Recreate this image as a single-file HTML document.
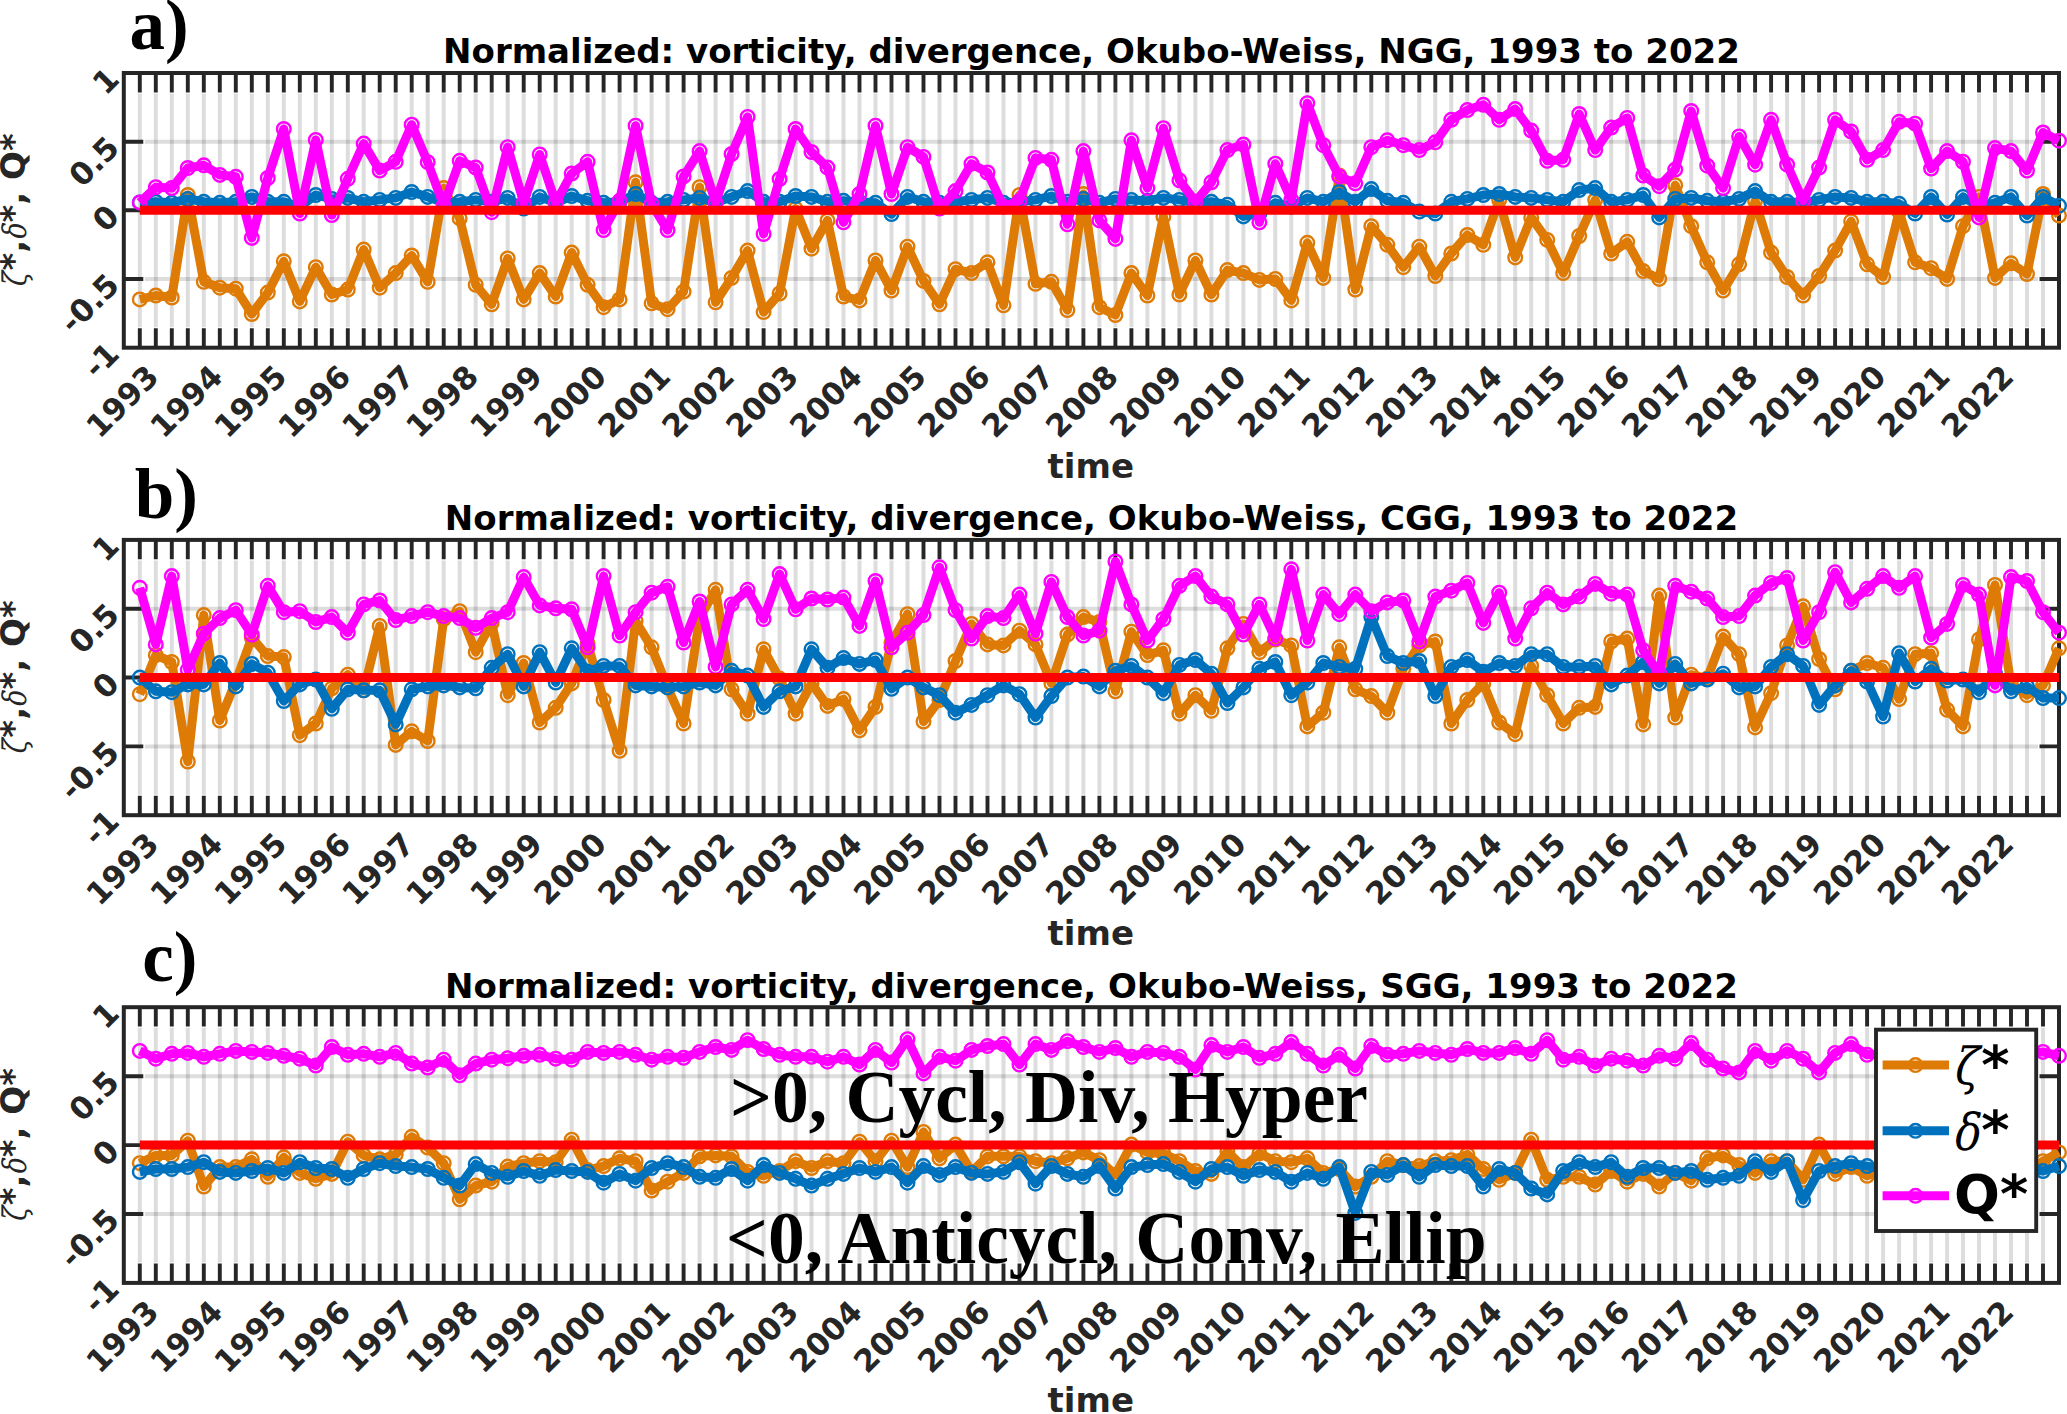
<!DOCTYPE html>
<html><head><meta charset="utf-8"><title>Normalized vorticity, divergence, Okubo-Weiss</title>
<style>
html,body{margin:0;padding:0;background:#fff;}
svg{display:block;}
text{font-family:"DejaVu Sans","Liberation Sans",sans-serif;font-weight:bold;}
.ttl{font-size:34px;fill:#000;}
.xl{font-size:34px;fill:#262626;}
.tk{font-size:31px;fill:#262626;}
.yl text{font-size:34px;fill:#262626;}
.yl text.gr{font-family:"DejaVu Math TeX Gyre","DejaVu Serif","Liberation Serif",serif;font-style:italic;font-weight:normal;font-size:32.5px;}
.gr2{font-family:"DejaVu Math TeX Gyre","DejaVu Serif","Liberation Serif",serif;font-style:italic;font-weight:normal;font-size:51px;fill:#000;}
.pl{font-family:"Liberation Serif",serif;font-weight:bold;font-size:71px;fill:#000;}
.an{font-family:"Liberation Serif",serif;font-weight:bold;font-size:73.5px;fill:#000;}
.lg{font-size:54px;fill:#000;}
</style></head>
<body>
<svg width="2067" height="1414" viewBox="0 0 2067 1414">
<rect width="2067" height="1414" fill="#fff"/>
<g>
<path d="M139.8 93.5V327.2M155.8 93.5V327.2M171.8 93.5V327.2M187.8 93.5V327.2M203.8 93.5V327.2M219.8 93.5V327.2M235.8 93.5V327.2M251.8 93.5V327.2M267.8 93.5V327.2M283.8 93.5V327.2M299.8 93.5V327.2M315.8 93.5V327.2M331.8 93.5V327.2M347.8 93.5V327.2M363.7 93.5V327.2M379.7 93.5V327.2M395.7 93.5V327.2M411.7 93.5V327.2M427.7 93.5V327.2M443.7 93.5V327.2M459.7 93.5V327.2M475.7 93.5V327.2M491.7 93.5V327.2M507.7 93.5V327.2M523.7 93.5V327.2M539.7 93.5V327.2M555.7 93.5V327.2M571.7 93.5V327.2M587.6 93.5V327.2M603.6 93.5V327.2M619.6 93.5V327.2M635.6 93.5V327.2M651.6 93.5V327.2M667.6 93.5V327.2M683.6 93.5V327.2M699.6 93.5V327.2M715.6 93.5V327.2M731.6 93.5V327.2M747.6 93.5V327.2M763.6 93.5V327.2M779.6 93.5V327.2M795.6 93.5V327.2M811.5 93.5V327.2M827.5 93.5V327.2M843.5 93.5V327.2M859.5 93.5V327.2M875.5 93.5V327.2M891.5 93.5V327.2M907.5 93.5V327.2M923.5 93.5V327.2M939.5 93.5V327.2M955.5 93.5V327.2M971.5 93.5V327.2M987.5 93.5V327.2M1003.5 93.5V327.2M1019.5 93.5V327.2M1035.5 93.5V327.2M1051.4 93.5V327.2M1067.4 93.5V327.2M1083.4 93.5V327.2M1099.4 93.5V327.2M1115.4 93.5V327.2M1131.4 93.5V327.2M1147.4 93.5V327.2M1163.4 93.5V327.2M1179.4 93.5V327.2M1195.4 93.5V327.2M1211.4 93.5V327.2M1227.4 93.5V327.2M1243.4 93.5V327.2M1259.4 93.5V327.2M1275.3 93.5V327.2M1291.3 93.5V327.2M1307.3 93.5V327.2M1323.3 93.5V327.2M1339.3 93.5V327.2M1355.3 93.5V327.2M1371.3 93.5V327.2M1387.3 93.5V327.2M1403.3 93.5V327.2M1419.3 93.5V327.2M1435.3 93.5V327.2M1451.3 93.5V327.2M1467.3 93.5V327.2M1483.3 93.5V327.2M1499.2 93.5V327.2M1515.2 93.5V327.2M1531.2 93.5V327.2M1547.2 93.5V327.2M1563.2 93.5V327.2M1579.2 93.5V327.2M1595.2 93.5V327.2M1611.2 93.5V327.2M1627.2 93.5V327.2M1643.2 93.5V327.2M1659.2 93.5V327.2M1675.2 93.5V327.2M1691.2 93.5V327.2M1707.2 93.5V327.2M1723.1 93.5V327.2M1739.1 93.5V327.2M1755.1 93.5V327.2M1771.1 93.5V327.2M1787.1 93.5V327.2M1803.1 93.5V327.2M1819.1 93.5V327.2M1835.1 93.5V327.2M1851.1 93.5V327.2M1867.1 93.5V327.2M1883.1 93.5V327.2M1899.1 93.5V327.2M1915.1 93.5V327.2M1931.1 93.5V327.2M1947.1 93.5V327.2M1963 93.5V327.2M1979 93.5V327.2M1995 93.5V327.2M2011 93.5V327.2M2027 93.5V327.2M2043 93.5V327.2" stroke="#000" stroke-opacity="0.135" stroke-width="4" fill="none"/>
<path d="M144.8 141.7H2038M144.8 279H2038" stroke="#000" stroke-opacity="0.135" stroke-width="4" fill="none"/>
<path d="M139.8 73v19.4M139.8 347.7v-19.4M155.8 73v19.4M155.8 347.7v-19.4M171.8 73v19.4M171.8 347.7v-19.4M187.8 73v19.4M187.8 347.7v-19.4M203.8 73v19.4M203.8 347.7v-19.4M219.8 73v19.4M219.8 347.7v-19.4M235.8 73v19.4M235.8 347.7v-19.4M251.8 73v19.4M251.8 347.7v-19.4M267.8 73v19.4M267.8 347.7v-19.4M283.8 73v19.4M283.8 347.7v-19.4M299.8 73v19.4M299.8 347.7v-19.4M315.8 73v19.4M315.8 347.7v-19.4M331.8 73v19.4M331.8 347.7v-19.4M347.8 73v19.4M347.8 347.7v-19.4M363.7 73v19.4M363.7 347.7v-19.4M379.7 73v19.4M379.7 347.7v-19.4M395.7 73v19.4M395.7 347.7v-19.4M411.7 73v19.4M411.7 347.7v-19.4M427.7 73v19.4M427.7 347.7v-19.4M443.7 73v19.4M443.7 347.7v-19.4M459.7 73v19.4M459.7 347.7v-19.4M475.7 73v19.4M475.7 347.7v-19.4M491.7 73v19.4M491.7 347.7v-19.4M507.7 73v19.4M507.7 347.7v-19.4M523.7 73v19.4M523.7 347.7v-19.4M539.7 73v19.4M539.7 347.7v-19.4M555.7 73v19.4M555.7 347.7v-19.4M571.7 73v19.4M571.7 347.7v-19.4M587.6 73v19.4M587.6 347.7v-19.4M603.6 73v19.4M603.6 347.7v-19.4M619.6 73v19.4M619.6 347.7v-19.4M635.6 73v19.4M635.6 347.7v-19.4M651.6 73v19.4M651.6 347.7v-19.4M667.6 73v19.4M667.6 347.7v-19.4M683.6 73v19.4M683.6 347.7v-19.4M699.6 73v19.4M699.6 347.7v-19.4M715.6 73v19.4M715.6 347.7v-19.4M731.6 73v19.4M731.6 347.7v-19.4M747.6 73v19.4M747.6 347.7v-19.4M763.6 73v19.4M763.6 347.7v-19.4M779.6 73v19.4M779.6 347.7v-19.4M795.6 73v19.4M795.6 347.7v-19.4M811.5 73v19.4M811.5 347.7v-19.4M827.5 73v19.4M827.5 347.7v-19.4M843.5 73v19.4M843.5 347.7v-19.4M859.5 73v19.4M859.5 347.7v-19.4M875.5 73v19.4M875.5 347.7v-19.4M891.5 73v19.4M891.5 347.7v-19.4M907.5 73v19.4M907.5 347.7v-19.4M923.5 73v19.4M923.5 347.7v-19.4M939.5 73v19.4M939.5 347.7v-19.4M955.5 73v19.4M955.5 347.7v-19.4M971.5 73v19.4M971.5 347.7v-19.4M987.5 73v19.4M987.5 347.7v-19.4M1003.5 73v19.4M1003.5 347.7v-19.4M1019.5 73v19.4M1019.5 347.7v-19.4M1035.5 73v19.4M1035.5 347.7v-19.4M1051.4 73v19.4M1051.4 347.7v-19.4M1067.4 73v19.4M1067.4 347.7v-19.4M1083.4 73v19.4M1083.4 347.7v-19.4M1099.4 73v19.4M1099.4 347.7v-19.4M1115.4 73v19.4M1115.4 347.7v-19.4M1131.4 73v19.4M1131.4 347.7v-19.4M1147.4 73v19.4M1147.4 347.7v-19.4M1163.4 73v19.4M1163.4 347.7v-19.4M1179.4 73v19.4M1179.4 347.7v-19.4M1195.4 73v19.4M1195.4 347.7v-19.4M1211.4 73v19.4M1211.4 347.7v-19.4M1227.4 73v19.4M1227.4 347.7v-19.4M1243.4 73v19.4M1243.4 347.7v-19.4M1259.4 73v19.4M1259.4 347.7v-19.4M1275.3 73v19.4M1275.3 347.7v-19.4M1291.3 73v19.4M1291.3 347.7v-19.4M1307.3 73v19.4M1307.3 347.7v-19.4M1323.3 73v19.4M1323.3 347.7v-19.4M1339.3 73v19.4M1339.3 347.7v-19.4M1355.3 73v19.4M1355.3 347.7v-19.4M1371.3 73v19.4M1371.3 347.7v-19.4M1387.3 73v19.4M1387.3 347.7v-19.4M1403.3 73v19.4M1403.3 347.7v-19.4M1419.3 73v19.4M1419.3 347.7v-19.4M1435.3 73v19.4M1435.3 347.7v-19.4M1451.3 73v19.4M1451.3 347.7v-19.4M1467.3 73v19.4M1467.3 347.7v-19.4M1483.3 73v19.4M1483.3 347.7v-19.4M1499.2 73v19.4M1499.2 347.7v-19.4M1515.2 73v19.4M1515.2 347.7v-19.4M1531.2 73v19.4M1531.2 347.7v-19.4M1547.2 73v19.4M1547.2 347.7v-19.4M1563.2 73v19.4M1563.2 347.7v-19.4M1579.2 73v19.4M1579.2 347.7v-19.4M1595.2 73v19.4M1595.2 347.7v-19.4M1611.2 73v19.4M1611.2 347.7v-19.4M1627.2 73v19.4M1627.2 347.7v-19.4M1643.2 73v19.4M1643.2 347.7v-19.4M1659.2 73v19.4M1659.2 347.7v-19.4M1675.2 73v19.4M1675.2 347.7v-19.4M1691.2 73v19.4M1691.2 347.7v-19.4M1707.2 73v19.4M1707.2 347.7v-19.4M1723.1 73v19.4M1723.1 347.7v-19.4M1739.1 73v19.4M1739.1 347.7v-19.4M1755.1 73v19.4M1755.1 347.7v-19.4M1771.1 73v19.4M1771.1 347.7v-19.4M1787.1 73v19.4M1787.1 347.7v-19.4M1803.1 73v19.4M1803.1 347.7v-19.4M1819.1 73v19.4M1819.1 347.7v-19.4M1835.1 73v19.4M1835.1 347.7v-19.4M1851.1 73v19.4M1851.1 347.7v-19.4M1867.1 73v19.4M1867.1 347.7v-19.4M1883.1 73v19.4M1883.1 347.7v-19.4M1899.1 73v19.4M1899.1 347.7v-19.4M1915.1 73v19.4M1915.1 347.7v-19.4M1931.1 73v19.4M1931.1 347.7v-19.4M1947.1 73v19.4M1947.1 347.7v-19.4M1963 73v19.4M1963 347.7v-19.4M1979 73v19.4M1979 347.7v-19.4M1995 73v19.4M1995 347.7v-19.4M2011 73v19.4M2011 347.7v-19.4M2027 73v19.4M2027 347.7v-19.4M2043 73v19.4M2043 347.7v-19.4M123.8 141.7h19.5M2059 141.7h-19.5M123.8 210.3h19.5M2059 210.3h-19.5M123.8 279h19.5M2059 279h-19.5" stroke="#262626" stroke-width="3.9" fill="none"/>
<rect x="123.8" y="73" width="1935.2" height="274.7" fill="none" stroke="#262626" stroke-width="4"/>
<polyline points="139.8,299.4 155.8,295.5 171.8,297.5 187.8,195 203.8,281.8 219.8,287.7 235.8,288.7 251.8,314 267.8,292.6 283.8,261.3 299.8,301.4 315.8,267.2 331.8,294.5 347.8,289.6 363.7,249.6 379.7,287.7 395.7,273.1 411.7,255.5 427.7,281.8 443.7,188.1 459.7,218.4 475.7,284.8 491.7,304.3 507.7,258.4 523.7,299.4 539.7,273.1 555.7,296.5 571.7,252.6 587.6,284.8 603.6,307.2 619.6,299.4 635.6,182.3 651.6,303.3 667.6,309.2 683.6,291.6 699.6,187.2 715.6,302.3 731.6,277.9 747.6,250.6 763.6,312.1 779.6,293.5 795.6,208.6 811.5,248.7 827.5,220.4 843.5,296.5 859.5,300.4 875.5,260.4 891.5,290.6 907.5,246.7 923.5,280.9 939.5,304.3 955.5,269.2 971.5,273.1 987.5,262.3 1003.5,305.3 1019.5,195 1035.5,283.8 1051.4,281.8 1067.4,310.1 1083.4,194 1099.4,307.2 1115.4,315 1131.4,273.1 1147.4,295.5 1163.4,216.4 1179.4,294.5 1195.4,260.4 1211.4,294.5 1227.4,270.1 1243.4,273.1 1259.4,279.9 1275.3,278.9 1291.3,300.4 1307.3,242.8 1323.3,277.9 1339.3,175.5 1355.3,289.6 1371.3,226.2 1387.3,244.8 1403.3,267.2 1419.3,246.7 1435.3,276 1451.3,253.5 1467.3,235 1483.3,244.8 1499.2,199.9 1515.2,257.4 1531.2,217.4 1547.2,239.9 1563.2,273.1 1579.2,236 1595.2,199.9 1611.2,253.5 1627.2,241.8 1643.2,271.1 1659.2,278.9 1675.2,185.2 1691.2,226.2 1707.2,262.3 1723.1,290.6 1739.1,264.3 1755.1,200.8 1771.1,252.6 1787.1,277 1803.1,295.5 1819.1,276 1835.1,250.6 1851.1,221.3 1867.1,264.3 1883.1,277 1899.1,211.6 1915.1,262.3 1931.1,268.2 1947.1,278.9 1963,226.2 1979,196.9 1995,277.9 2011,263.3 2027,274 2043,194 2059,215.5" fill="none" stroke="#DE7B06" stroke-width="9.0" stroke-linejoin="round"/>
<g fill="none" stroke="#DE7B06" stroke-width="2.4"><circle cx="139.8" cy="299.4" r="6.8"/><circle cx="155.8" cy="295.5" r="6.8"/><circle cx="171.8" cy="297.5" r="6.8"/><circle cx="187.8" cy="195" r="6.8"/><circle cx="203.8" cy="281.8" r="6.8"/><circle cx="219.8" cy="287.7" r="6.8"/><circle cx="235.8" cy="288.7" r="6.8"/><circle cx="251.8" cy="314" r="6.8"/><circle cx="267.8" cy="292.6" r="6.8"/><circle cx="283.8" cy="261.3" r="6.8"/><circle cx="299.8" cy="301.4" r="6.8"/><circle cx="315.8" cy="267.2" r="6.8"/><circle cx="331.8" cy="294.5" r="6.8"/><circle cx="347.8" cy="289.6" r="6.8"/><circle cx="363.7" cy="249.6" r="6.8"/><circle cx="379.7" cy="287.7" r="6.8"/><circle cx="395.7" cy="273.1" r="6.8"/><circle cx="411.7" cy="255.5" r="6.8"/><circle cx="427.7" cy="281.8" r="6.8"/><circle cx="443.7" cy="188.1" r="6.8"/><circle cx="459.7" cy="218.4" r="6.8"/><circle cx="475.7" cy="284.8" r="6.8"/><circle cx="491.7" cy="304.3" r="6.8"/><circle cx="507.7" cy="258.4" r="6.8"/><circle cx="523.7" cy="299.4" r="6.8"/><circle cx="539.7" cy="273.1" r="6.8"/><circle cx="555.7" cy="296.5" r="6.8"/><circle cx="571.7" cy="252.6" r="6.8"/><circle cx="587.6" cy="284.8" r="6.8"/><circle cx="603.6" cy="307.2" r="6.8"/><circle cx="619.6" cy="299.4" r="6.8"/><circle cx="635.6" cy="182.3" r="6.8"/><circle cx="651.6" cy="303.3" r="6.8"/><circle cx="667.6" cy="309.2" r="6.8"/><circle cx="683.6" cy="291.6" r="6.8"/><circle cx="699.6" cy="187.2" r="6.8"/><circle cx="715.6" cy="302.3" r="6.8"/><circle cx="731.6" cy="277.9" r="6.8"/><circle cx="747.6" cy="250.6" r="6.8"/><circle cx="763.6" cy="312.1" r="6.8"/><circle cx="779.6" cy="293.5" r="6.8"/><circle cx="795.6" cy="208.6" r="6.8"/><circle cx="811.5" cy="248.7" r="6.8"/><circle cx="827.5" cy="220.4" r="6.8"/><circle cx="843.5" cy="296.5" r="6.8"/><circle cx="859.5" cy="300.4" r="6.8"/><circle cx="875.5" cy="260.4" r="6.8"/><circle cx="891.5" cy="290.6" r="6.8"/><circle cx="907.5" cy="246.7" r="6.8"/><circle cx="923.5" cy="280.9" r="6.8"/><circle cx="939.5" cy="304.3" r="6.8"/><circle cx="955.5" cy="269.2" r="6.8"/><circle cx="971.5" cy="273.1" r="6.8"/><circle cx="987.5" cy="262.3" r="6.8"/><circle cx="1003.5" cy="305.3" r="6.8"/><circle cx="1019.5" cy="195" r="6.8"/><circle cx="1035.5" cy="283.8" r="6.8"/><circle cx="1051.4" cy="281.8" r="6.8"/><circle cx="1067.4" cy="310.1" r="6.8"/><circle cx="1083.4" cy="194" r="6.8"/><circle cx="1099.4" cy="307.2" r="6.8"/><circle cx="1115.4" cy="315" r="6.8"/><circle cx="1131.4" cy="273.1" r="6.8"/><circle cx="1147.4" cy="295.5" r="6.8"/><circle cx="1163.4" cy="216.4" r="6.8"/><circle cx="1179.4" cy="294.5" r="6.8"/><circle cx="1195.4" cy="260.4" r="6.8"/><circle cx="1211.4" cy="294.5" r="6.8"/><circle cx="1227.4" cy="270.1" r="6.8"/><circle cx="1243.4" cy="273.1" r="6.8"/><circle cx="1259.4" cy="279.9" r="6.8"/><circle cx="1275.3" cy="278.9" r="6.8"/><circle cx="1291.3" cy="300.4" r="6.8"/><circle cx="1307.3" cy="242.8" r="6.8"/><circle cx="1323.3" cy="277.9" r="6.8"/><circle cx="1339.3" cy="175.5" r="6.8"/><circle cx="1355.3" cy="289.6" r="6.8"/><circle cx="1371.3" cy="226.2" r="6.8"/><circle cx="1387.3" cy="244.8" r="6.8"/><circle cx="1403.3" cy="267.2" r="6.8"/><circle cx="1419.3" cy="246.7" r="6.8"/><circle cx="1435.3" cy="276" r="6.8"/><circle cx="1451.3" cy="253.5" r="6.8"/><circle cx="1467.3" cy="235" r="6.8"/><circle cx="1483.3" cy="244.8" r="6.8"/><circle cx="1499.2" cy="199.9" r="6.8"/><circle cx="1515.2" cy="257.4" r="6.8"/><circle cx="1531.2" cy="217.4" r="6.8"/><circle cx="1547.2" cy="239.9" r="6.8"/><circle cx="1563.2" cy="273.1" r="6.8"/><circle cx="1579.2" cy="236" r="6.8"/><circle cx="1595.2" cy="199.9" r="6.8"/><circle cx="1611.2" cy="253.5" r="6.8"/><circle cx="1627.2" cy="241.8" r="6.8"/><circle cx="1643.2" cy="271.1" r="6.8"/><circle cx="1659.2" cy="278.9" r="6.8"/><circle cx="1675.2" cy="185.2" r="6.8"/><circle cx="1691.2" cy="226.2" r="6.8"/><circle cx="1707.2" cy="262.3" r="6.8"/><circle cx="1723.1" cy="290.6" r="6.8"/><circle cx="1739.1" cy="264.3" r="6.8"/><circle cx="1755.1" cy="200.8" r="6.8"/><circle cx="1771.1" cy="252.6" r="6.8"/><circle cx="1787.1" cy="277" r="6.8"/><circle cx="1803.1" cy="295.5" r="6.8"/><circle cx="1819.1" cy="276" r="6.8"/><circle cx="1835.1" cy="250.6" r="6.8"/><circle cx="1851.1" cy="221.3" r="6.8"/><circle cx="1867.1" cy="264.3" r="6.8"/><circle cx="1883.1" cy="277" r="6.8"/><circle cx="1899.1" cy="211.6" r="6.8"/><circle cx="1915.1" cy="262.3" r="6.8"/><circle cx="1931.1" cy="268.2" r="6.8"/><circle cx="1947.1" cy="278.9" r="6.8"/><circle cx="1963" cy="226.2" r="6.8"/><circle cx="1979" cy="196.9" r="6.8"/><circle cx="1995" cy="277.9" r="6.8"/><circle cx="2011" cy="263.3" r="6.8"/><circle cx="2027" cy="274" r="6.8"/><circle cx="2043" cy="194" r="6.8"/><circle cx="2059" cy="215.5" r="6.8"/></g>
<polyline points="139.8,202.4 155.8,201.8 171.8,202.8 187.8,198.9 203.8,201.8 219.8,202.8 235.8,201.8 251.8,196.9 267.8,201.8 283.8,201.8 299.8,206.7 315.8,195 331.8,198.9 347.8,197.9 363.7,201.8 379.7,199.9 395.7,197.9 411.7,192 427.7,196.9 443.7,202.8 459.7,201.8 475.7,199.9 491.7,201.8 507.7,197.9 523.7,208.6 539.7,196.9 555.7,202.8 571.7,196 587.6,200.8 603.6,202.8 619.6,201.8 635.6,194 651.6,202.8 667.6,201.8 683.6,199.9 699.6,197.9 715.6,202.8 731.6,196.9 747.6,191.1 763.6,201.8 779.6,201.8 795.6,196 811.5,196.9 827.5,201.8 843.5,200.8 859.5,201.8 875.5,202.8 891.5,214.1 907.5,196.9 923.5,201.8 939.5,202.8 955.5,201.8 971.5,199.9 987.5,197.9 1003.5,202.8 1019.5,201.8 1035.5,199.9 1051.4,196 1067.4,201.8 1083.4,198.9 1099.4,202.8 1115.4,198.9 1131.4,199.9 1147.4,200.8 1163.4,197.9 1179.4,199.9 1195.4,202.8 1211.4,201.8 1227.4,204.7 1243.4,216.4 1259.4,213.5 1275.3,202.8 1291.3,206.7 1307.3,197.9 1323.3,201.8 1339.3,192 1355.3,201.8 1371.3,189.1 1387.3,200.8 1403.3,202.8 1419.3,211.6 1435.3,213.5 1451.3,201.8 1467.3,198.9 1483.3,195 1499.2,194 1515.2,196.9 1531.2,197.9 1547.2,199.9 1563.2,201.8 1579.2,190.1 1595.2,188.1 1611.2,201.8 1627.2,199.9 1643.2,195 1659.2,217.4 1675.2,198.9 1691.2,197.9 1707.2,200.8 1723.1,201.8 1739.1,198.9 1755.1,191.1 1771.1,201.8 1787.1,201.8 1803.1,202.8 1819.1,199.9 1835.1,196.9 1851.1,197.9 1867.1,201.8 1883.1,201.8 1899.1,203.8 1915.1,213.5 1931.1,196.9 1947.1,214.5 1963,196.9 1979,206.7 1995,202.8 2011,196.9 2027,215.5 2043,196.9 2059,205.7" fill="none" stroke="#0072BD" stroke-width="9.0" stroke-linejoin="round"/>
<g fill="none" stroke="#0072BD" stroke-width="2.4"><circle cx="139.8" cy="202.4" r="6.8"/><circle cx="155.8" cy="201.8" r="6.8"/><circle cx="171.8" cy="202.8" r="6.8"/><circle cx="187.8" cy="198.9" r="6.8"/><circle cx="203.8" cy="201.8" r="6.8"/><circle cx="219.8" cy="202.8" r="6.8"/><circle cx="235.8" cy="201.8" r="6.8"/><circle cx="251.8" cy="196.9" r="6.8"/><circle cx="267.8" cy="201.8" r="6.8"/><circle cx="283.8" cy="201.8" r="6.8"/><circle cx="299.8" cy="206.7" r="6.8"/><circle cx="315.8" cy="195" r="6.8"/><circle cx="331.8" cy="198.9" r="6.8"/><circle cx="347.8" cy="197.9" r="6.8"/><circle cx="363.7" cy="201.8" r="6.8"/><circle cx="379.7" cy="199.9" r="6.8"/><circle cx="395.7" cy="197.9" r="6.8"/><circle cx="411.7" cy="192" r="6.8"/><circle cx="427.7" cy="196.9" r="6.8"/><circle cx="443.7" cy="202.8" r="6.8"/><circle cx="459.7" cy="201.8" r="6.8"/><circle cx="475.7" cy="199.9" r="6.8"/><circle cx="491.7" cy="201.8" r="6.8"/><circle cx="507.7" cy="197.9" r="6.8"/><circle cx="523.7" cy="208.6" r="6.8"/><circle cx="539.7" cy="196.9" r="6.8"/><circle cx="555.7" cy="202.8" r="6.8"/><circle cx="571.7" cy="196" r="6.8"/><circle cx="587.6" cy="200.8" r="6.8"/><circle cx="603.6" cy="202.8" r="6.8"/><circle cx="619.6" cy="201.8" r="6.8"/><circle cx="635.6" cy="194" r="6.8"/><circle cx="651.6" cy="202.8" r="6.8"/><circle cx="667.6" cy="201.8" r="6.8"/><circle cx="683.6" cy="199.9" r="6.8"/><circle cx="699.6" cy="197.9" r="6.8"/><circle cx="715.6" cy="202.8" r="6.8"/><circle cx="731.6" cy="196.9" r="6.8"/><circle cx="747.6" cy="191.1" r="6.8"/><circle cx="763.6" cy="201.8" r="6.8"/><circle cx="779.6" cy="201.8" r="6.8"/><circle cx="795.6" cy="196" r="6.8"/><circle cx="811.5" cy="196.9" r="6.8"/><circle cx="827.5" cy="201.8" r="6.8"/><circle cx="843.5" cy="200.8" r="6.8"/><circle cx="859.5" cy="201.8" r="6.8"/><circle cx="875.5" cy="202.8" r="6.8"/><circle cx="891.5" cy="214.1" r="6.8"/><circle cx="907.5" cy="196.9" r="6.8"/><circle cx="923.5" cy="201.8" r="6.8"/><circle cx="939.5" cy="202.8" r="6.8"/><circle cx="955.5" cy="201.8" r="6.8"/><circle cx="971.5" cy="199.9" r="6.8"/><circle cx="987.5" cy="197.9" r="6.8"/><circle cx="1003.5" cy="202.8" r="6.8"/><circle cx="1019.5" cy="201.8" r="6.8"/><circle cx="1035.5" cy="199.9" r="6.8"/><circle cx="1051.4" cy="196" r="6.8"/><circle cx="1067.4" cy="201.8" r="6.8"/><circle cx="1083.4" cy="198.9" r="6.8"/><circle cx="1099.4" cy="202.8" r="6.8"/><circle cx="1115.4" cy="198.9" r="6.8"/><circle cx="1131.4" cy="199.9" r="6.8"/><circle cx="1147.4" cy="200.8" r="6.8"/><circle cx="1163.4" cy="197.9" r="6.8"/><circle cx="1179.4" cy="199.9" r="6.8"/><circle cx="1195.4" cy="202.8" r="6.8"/><circle cx="1211.4" cy="201.8" r="6.8"/><circle cx="1227.4" cy="204.7" r="6.8"/><circle cx="1243.4" cy="216.4" r="6.8"/><circle cx="1259.4" cy="213.5" r="6.8"/><circle cx="1275.3" cy="202.8" r="6.8"/><circle cx="1291.3" cy="206.7" r="6.8"/><circle cx="1307.3" cy="197.9" r="6.8"/><circle cx="1323.3" cy="201.8" r="6.8"/><circle cx="1339.3" cy="192" r="6.8"/><circle cx="1355.3" cy="201.8" r="6.8"/><circle cx="1371.3" cy="189.1" r="6.8"/><circle cx="1387.3" cy="200.8" r="6.8"/><circle cx="1403.3" cy="202.8" r="6.8"/><circle cx="1419.3" cy="211.6" r="6.8"/><circle cx="1435.3" cy="213.5" r="6.8"/><circle cx="1451.3" cy="201.8" r="6.8"/><circle cx="1467.3" cy="198.9" r="6.8"/><circle cx="1483.3" cy="195" r="6.8"/><circle cx="1499.2" cy="194" r="6.8"/><circle cx="1515.2" cy="196.9" r="6.8"/><circle cx="1531.2" cy="197.9" r="6.8"/><circle cx="1547.2" cy="199.9" r="6.8"/><circle cx="1563.2" cy="201.8" r="6.8"/><circle cx="1579.2" cy="190.1" r="6.8"/><circle cx="1595.2" cy="188.1" r="6.8"/><circle cx="1611.2" cy="201.8" r="6.8"/><circle cx="1627.2" cy="199.9" r="6.8"/><circle cx="1643.2" cy="195" r="6.8"/><circle cx="1659.2" cy="217.4" r="6.8"/><circle cx="1675.2" cy="198.9" r="6.8"/><circle cx="1691.2" cy="197.9" r="6.8"/><circle cx="1707.2" cy="200.8" r="6.8"/><circle cx="1723.1" cy="201.8" r="6.8"/><circle cx="1739.1" cy="198.9" r="6.8"/><circle cx="1755.1" cy="191.1" r="6.8"/><circle cx="1771.1" cy="201.8" r="6.8"/><circle cx="1787.1" cy="201.8" r="6.8"/><circle cx="1803.1" cy="202.8" r="6.8"/><circle cx="1819.1" cy="199.9" r="6.8"/><circle cx="1835.1" cy="196.9" r="6.8"/><circle cx="1851.1" cy="197.9" r="6.8"/><circle cx="1867.1" cy="201.8" r="6.8"/><circle cx="1883.1" cy="201.8" r="6.8"/><circle cx="1899.1" cy="203.8" r="6.8"/><circle cx="1915.1" cy="213.5" r="6.8"/><circle cx="1931.1" cy="196.9" r="6.8"/><circle cx="1947.1" cy="214.5" r="6.8"/><circle cx="1963" cy="196.9" r="6.8"/><circle cx="1979" cy="206.7" r="6.8"/><circle cx="1995" cy="202.8" r="6.8"/><circle cx="2011" cy="196.9" r="6.8"/><circle cx="2027" cy="215.5" r="6.8"/><circle cx="2043" cy="196.9" r="6.8"/><circle cx="2059" cy="205.7" r="6.8"/></g>
<polyline points="139.8,202.4 155.8,187.2 171.8,188.1 187.8,168 203.8,165.3 219.8,174.9 235.8,176.8 251.8,237.9 267.8,178 283.8,129 299.8,213.5 315.8,139.9 331.8,215.1 347.8,178.8 363.7,143.6 379.7,170.6 395.7,161.8 411.7,124.7 427.7,162.2 443.7,205.7 459.7,160.8 475.7,167.6 491.7,212.2 507.7,147.2 523.7,202.8 539.7,154.4 555.7,202.8 571.7,173.5 587.6,161.8 603.6,230.1 619.6,200.8 635.6,125.7 651.6,203.8 667.6,230.1 683.6,176.4 699.6,151.1 715.6,202.8 731.6,154 747.6,116.9 763.6,234 779.6,179 795.6,129 811.5,152 827.5,167.6 843.5,222.3 859.5,194 875.5,125.7 891.5,194 907.5,147.2 923.5,156.9 939.5,208.6 955.5,191.1 971.5,163.7 987.5,172.5 1003.5,206.7 1019.5,200.8 1035.5,157.9 1051.4,159.8 1067.4,224.3 1083.4,151.1 1099.4,220.4 1115.4,238.9 1131.4,140.3 1147.4,188.1 1163.4,128.2 1179.4,180.3 1195.4,201.8 1211.4,182.3 1227.4,150.1 1243.4,144.6 1259.4,222.3 1275.3,163.7 1291.3,199.9 1307.3,103.2 1323.3,145.2 1339.3,176.4 1355.3,183.3 1371.3,147.2 1387.3,140.3 1403.3,145.2 1419.3,150.1 1435.3,142.3 1451.3,119.8 1467.3,110.1 1483.3,104.8 1499.2,119.8 1515.2,109.1 1531.2,130.6 1547.2,160.8 1563.2,159.8 1579.2,114 1595.2,150.1 1611.2,127.6 1627.2,117.9 1643.2,175.5 1659.2,186.2 1675.2,169.6 1691.2,111 1707.2,165.7 1723.1,188.1 1739.1,136.4 1755.1,164.7 1771.1,119.8 1787.1,164.7 1803.1,200.8 1819.1,167.6 1835.1,119.8 1851.1,131.5 1867.1,159.8 1883.1,150.1 1899.1,121.8 1915.1,123.7 1931.1,168.6 1947.1,151.1 1963,161.8 1979,217.4 1995,148.1 2011,151.1 2027,170.6 2043,132.5 2059,140.7" fill="none" stroke="#FF00FF" stroke-width="9.0" stroke-linejoin="round"/>
<g fill="none" stroke="#FF00FF" stroke-width="2.4"><circle cx="139.8" cy="202.4" r="6.8"/><circle cx="155.8" cy="187.2" r="6.8"/><circle cx="171.8" cy="188.1" r="6.8"/><circle cx="187.8" cy="168" r="6.8"/><circle cx="203.8" cy="165.3" r="6.8"/><circle cx="219.8" cy="174.9" r="6.8"/><circle cx="235.8" cy="176.8" r="6.8"/><circle cx="251.8" cy="237.9" r="6.8"/><circle cx="267.8" cy="178" r="6.8"/><circle cx="283.8" cy="129" r="6.8"/><circle cx="299.8" cy="213.5" r="6.8"/><circle cx="315.8" cy="139.9" r="6.8"/><circle cx="331.8" cy="215.1" r="6.8"/><circle cx="347.8" cy="178.8" r="6.8"/><circle cx="363.7" cy="143.6" r="6.8"/><circle cx="379.7" cy="170.6" r="6.8"/><circle cx="395.7" cy="161.8" r="6.8"/><circle cx="411.7" cy="124.7" r="6.8"/><circle cx="427.7" cy="162.2" r="6.8"/><circle cx="443.7" cy="205.7" r="6.8"/><circle cx="459.7" cy="160.8" r="6.8"/><circle cx="475.7" cy="167.6" r="6.8"/><circle cx="491.7" cy="212.2" r="6.8"/><circle cx="507.7" cy="147.2" r="6.8"/><circle cx="523.7" cy="202.8" r="6.8"/><circle cx="539.7" cy="154.4" r="6.8"/><circle cx="555.7" cy="202.8" r="6.8"/><circle cx="571.7" cy="173.5" r="6.8"/><circle cx="587.6" cy="161.8" r="6.8"/><circle cx="603.6" cy="230.1" r="6.8"/><circle cx="619.6" cy="200.8" r="6.8"/><circle cx="635.6" cy="125.7" r="6.8"/><circle cx="651.6" cy="203.8" r="6.8"/><circle cx="667.6" cy="230.1" r="6.8"/><circle cx="683.6" cy="176.4" r="6.8"/><circle cx="699.6" cy="151.1" r="6.8"/><circle cx="715.6" cy="202.8" r="6.8"/><circle cx="731.6" cy="154" r="6.8"/><circle cx="747.6" cy="116.9" r="6.8"/><circle cx="763.6" cy="234" r="6.8"/><circle cx="779.6" cy="179" r="6.8"/><circle cx="795.6" cy="129" r="6.8"/><circle cx="811.5" cy="152" r="6.8"/><circle cx="827.5" cy="167.6" r="6.8"/><circle cx="843.5" cy="222.3" r="6.8"/><circle cx="859.5" cy="194" r="6.8"/><circle cx="875.5" cy="125.7" r="6.8"/><circle cx="891.5" cy="194" r="6.8"/><circle cx="907.5" cy="147.2" r="6.8"/><circle cx="923.5" cy="156.9" r="6.8"/><circle cx="939.5" cy="208.6" r="6.8"/><circle cx="955.5" cy="191.1" r="6.8"/><circle cx="971.5" cy="163.7" r="6.8"/><circle cx="987.5" cy="172.5" r="6.8"/><circle cx="1003.5" cy="206.7" r="6.8"/><circle cx="1019.5" cy="200.8" r="6.8"/><circle cx="1035.5" cy="157.9" r="6.8"/><circle cx="1051.4" cy="159.8" r="6.8"/><circle cx="1067.4" cy="224.3" r="6.8"/><circle cx="1083.4" cy="151.1" r="6.8"/><circle cx="1099.4" cy="220.4" r="6.8"/><circle cx="1115.4" cy="238.9" r="6.8"/><circle cx="1131.4" cy="140.3" r="6.8"/><circle cx="1147.4" cy="188.1" r="6.8"/><circle cx="1163.4" cy="128.2" r="6.8"/><circle cx="1179.4" cy="180.3" r="6.8"/><circle cx="1195.4" cy="201.8" r="6.8"/><circle cx="1211.4" cy="182.3" r="6.8"/><circle cx="1227.4" cy="150.1" r="6.8"/><circle cx="1243.4" cy="144.6" r="6.8"/><circle cx="1259.4" cy="222.3" r="6.8"/><circle cx="1275.3" cy="163.7" r="6.8"/><circle cx="1291.3" cy="199.9" r="6.8"/><circle cx="1307.3" cy="103.2" r="6.8"/><circle cx="1323.3" cy="145.2" r="6.8"/><circle cx="1339.3" cy="176.4" r="6.8"/><circle cx="1355.3" cy="183.3" r="6.8"/><circle cx="1371.3" cy="147.2" r="6.8"/><circle cx="1387.3" cy="140.3" r="6.8"/><circle cx="1403.3" cy="145.2" r="6.8"/><circle cx="1419.3" cy="150.1" r="6.8"/><circle cx="1435.3" cy="142.3" r="6.8"/><circle cx="1451.3" cy="119.8" r="6.8"/><circle cx="1467.3" cy="110.1" r="6.8"/><circle cx="1483.3" cy="104.8" r="6.8"/><circle cx="1499.2" cy="119.8" r="6.8"/><circle cx="1515.2" cy="109.1" r="6.8"/><circle cx="1531.2" cy="130.6" r="6.8"/><circle cx="1547.2" cy="160.8" r="6.8"/><circle cx="1563.2" cy="159.8" r="6.8"/><circle cx="1579.2" cy="114" r="6.8"/><circle cx="1595.2" cy="150.1" r="6.8"/><circle cx="1611.2" cy="127.6" r="6.8"/><circle cx="1627.2" cy="117.9" r="6.8"/><circle cx="1643.2" cy="175.5" r="6.8"/><circle cx="1659.2" cy="186.2" r="6.8"/><circle cx="1675.2" cy="169.6" r="6.8"/><circle cx="1691.2" cy="111" r="6.8"/><circle cx="1707.2" cy="165.7" r="6.8"/><circle cx="1723.1" cy="188.1" r="6.8"/><circle cx="1739.1" cy="136.4" r="6.8"/><circle cx="1755.1" cy="164.7" r="6.8"/><circle cx="1771.1" cy="119.8" r="6.8"/><circle cx="1787.1" cy="164.7" r="6.8"/><circle cx="1803.1" cy="200.8" r="6.8"/><circle cx="1819.1" cy="167.6" r="6.8"/><circle cx="1835.1" cy="119.8" r="6.8"/><circle cx="1851.1" cy="131.5" r="6.8"/><circle cx="1867.1" cy="159.8" r="6.8"/><circle cx="1883.1" cy="150.1" r="6.8"/><circle cx="1899.1" cy="121.8" r="6.8"/><circle cx="1915.1" cy="123.7" r="6.8"/><circle cx="1931.1" cy="168.6" r="6.8"/><circle cx="1947.1" cy="151.1" r="6.8"/><circle cx="1963" cy="161.8" r="6.8"/><circle cx="1979" cy="217.4" r="6.8"/><circle cx="1995" cy="148.1" r="6.8"/><circle cx="2011" cy="151.1" r="6.8"/><circle cx="2027" cy="170.6" r="6.8"/><circle cx="2043" cy="132.5" r="6.8"/><circle cx="2059" cy="140.7" r="6.8"/></g>
<path d="M139.8 210.3H2059" stroke="#FF0000" stroke-width="9" fill="none"/>
<text x="1091.5" y="63.2" text-anchor="middle" class="ttl">Normalized: vorticity, divergence, Okubo-Weiss, NGG, 1993 to 2022</text>
<text x="1090.8" y="478" text-anchor="middle" class="xl">time</text>
<text transform="translate(121 81) rotate(-45)" text-anchor="end" class="tk">1</text>
<text transform="translate(121 149.7) rotate(-45)" text-anchor="end" class="tk">0.5</text>
<text transform="translate(121 218.3) rotate(-45)" text-anchor="end" class="tk">0</text>
<text transform="translate(121 287) rotate(-45)" text-anchor="end" class="tk">-0.5</text>
<text transform="translate(121 355.7) rotate(-45)" text-anchor="end" class="tk">-1</text>
<text transform="translate(160.4 378.5) rotate(-45)" text-anchor="end" class="tk">1993</text>
<text transform="translate(224.4 378.5) rotate(-45)" text-anchor="end" class="tk">1994</text>
<text transform="translate(288.4 378.5) rotate(-45)" text-anchor="end" class="tk">1995</text>
<text transform="translate(352.4 378.5) rotate(-45)" text-anchor="end" class="tk">1996</text>
<text transform="translate(416.3 378.5) rotate(-45)" text-anchor="end" class="tk">1997</text>
<text transform="translate(480.3 378.5) rotate(-45)" text-anchor="end" class="tk">1998</text>
<text transform="translate(544.3 378.5) rotate(-45)" text-anchor="end" class="tk">1999</text>
<text transform="translate(608.2 378.5) rotate(-45)" text-anchor="end" class="tk">2000</text>
<text transform="translate(672.2 378.5) rotate(-45)" text-anchor="end" class="tk">2001</text>
<text transform="translate(736.2 378.5) rotate(-45)" text-anchor="end" class="tk">2002</text>
<text transform="translate(800.2 378.5) rotate(-45)" text-anchor="end" class="tk">2003</text>
<text transform="translate(864.1 378.5) rotate(-45)" text-anchor="end" class="tk">2004</text>
<text transform="translate(928.1 378.5) rotate(-45)" text-anchor="end" class="tk">2005</text>
<text transform="translate(992.1 378.5) rotate(-45)" text-anchor="end" class="tk">2006</text>
<text transform="translate(1056.1 378.5) rotate(-45)" text-anchor="end" class="tk">2007</text>
<text transform="translate(1120 378.5) rotate(-45)" text-anchor="end" class="tk">2008</text>
<text transform="translate(1184 378.5) rotate(-45)" text-anchor="end" class="tk">2009</text>
<text transform="translate(1248 378.5) rotate(-45)" text-anchor="end" class="tk">2010</text>
<text transform="translate(1311.9 378.5) rotate(-45)" text-anchor="end" class="tk">2011</text>
<text transform="translate(1375.9 378.5) rotate(-45)" text-anchor="end" class="tk">2012</text>
<text transform="translate(1439.9 378.5) rotate(-45)" text-anchor="end" class="tk">2013</text>
<text transform="translate(1503.9 378.5) rotate(-45)" text-anchor="end" class="tk">2014</text>
<text transform="translate(1567.8 378.5) rotate(-45)" text-anchor="end" class="tk">2015</text>
<text transform="translate(1631.8 378.5) rotate(-45)" text-anchor="end" class="tk">2016</text>
<text transform="translate(1695.8 378.5) rotate(-45)" text-anchor="end" class="tk">2017</text>
<text transform="translate(1759.7 378.5) rotate(-45)" text-anchor="end" class="tk">2018</text>
<text transform="translate(1823.7 378.5) rotate(-45)" text-anchor="end" class="tk">2019</text>
<text transform="translate(1887.7 378.5) rotate(-45)" text-anchor="end" class="tk">2020</text>
<text transform="translate(1951.7 378.5) rotate(-45)" text-anchor="end" class="tk">2021</text>
<text transform="translate(2015.6 378.5) rotate(-45)" text-anchor="end" class="tk">2022</text>
<g transform="translate(24.5 285.1) rotate(-90)" class="yl"><text transform="translate(-3.7 1.5) scale(0.82 1)" class="gr">ζ</text><text x="14.55" y="0">*,</text><text transform="translate(43.5 1.2) scale(0.82 1)" class="gr">δ</text><text x="62.65" y="0">*, Q*</text></g>
</g>
<g>
<path d="M139.8 560.4V794.7M155.8 560.4V794.7M171.8 560.4V794.7M187.8 560.4V794.7M203.8 560.4V794.7M219.8 560.4V794.7M235.8 560.4V794.7M251.8 560.4V794.7M267.8 560.4V794.7M283.8 560.4V794.7M299.8 560.4V794.7M315.8 560.4V794.7M331.8 560.4V794.7M347.8 560.4V794.7M363.7 560.4V794.7M379.7 560.4V794.7M395.7 560.4V794.7M411.7 560.4V794.7M427.7 560.4V794.7M443.7 560.4V794.7M459.7 560.4V794.7M475.7 560.4V794.7M491.7 560.4V794.7M507.7 560.4V794.7M523.7 560.4V794.7M539.7 560.4V794.7M555.7 560.4V794.7M571.7 560.4V794.7M587.6 560.4V794.7M603.6 560.4V794.7M619.6 560.4V794.7M635.6 560.4V794.7M651.6 560.4V794.7M667.6 560.4V794.7M683.6 560.4V794.7M699.6 560.4V794.7M715.6 560.4V794.7M731.6 560.4V794.7M747.6 560.4V794.7M763.6 560.4V794.7M779.6 560.4V794.7M795.6 560.4V794.7M811.5 560.4V794.7M827.5 560.4V794.7M843.5 560.4V794.7M859.5 560.4V794.7M875.5 560.4V794.7M891.5 560.4V794.7M907.5 560.4V794.7M923.5 560.4V794.7M939.5 560.4V794.7M955.5 560.4V794.7M971.5 560.4V794.7M987.5 560.4V794.7M1003.5 560.4V794.7M1019.5 560.4V794.7M1035.5 560.4V794.7M1051.4 560.4V794.7M1067.4 560.4V794.7M1083.4 560.4V794.7M1099.4 560.4V794.7M1115.4 560.4V794.7M1131.4 560.4V794.7M1147.4 560.4V794.7M1163.4 560.4V794.7M1179.4 560.4V794.7M1195.4 560.4V794.7M1211.4 560.4V794.7M1227.4 560.4V794.7M1243.4 560.4V794.7M1259.4 560.4V794.7M1275.3 560.4V794.7M1291.3 560.4V794.7M1307.3 560.4V794.7M1323.3 560.4V794.7M1339.3 560.4V794.7M1355.3 560.4V794.7M1371.3 560.4V794.7M1387.3 560.4V794.7M1403.3 560.4V794.7M1419.3 560.4V794.7M1435.3 560.4V794.7M1451.3 560.4V794.7M1467.3 560.4V794.7M1483.3 560.4V794.7M1499.2 560.4V794.7M1515.2 560.4V794.7M1531.2 560.4V794.7M1547.2 560.4V794.7M1563.2 560.4V794.7M1579.2 560.4V794.7M1595.2 560.4V794.7M1611.2 560.4V794.7M1627.2 560.4V794.7M1643.2 560.4V794.7M1659.2 560.4V794.7M1675.2 560.4V794.7M1691.2 560.4V794.7M1707.2 560.4V794.7M1723.1 560.4V794.7M1739.1 560.4V794.7M1755.1 560.4V794.7M1771.1 560.4V794.7M1787.1 560.4V794.7M1803.1 560.4V794.7M1819.1 560.4V794.7M1835.1 560.4V794.7M1851.1 560.4V794.7M1867.1 560.4V794.7M1883.1 560.4V794.7M1899.1 560.4V794.7M1915.1 560.4V794.7M1931.1 560.4V794.7M1947.1 560.4V794.7M1963 560.4V794.7M1979 560.4V794.7M1995 560.4V794.7M2011 560.4V794.7M2027 560.4V794.7M2043 560.4V794.7" stroke="#000" stroke-opacity="0.135" stroke-width="4" fill="none"/>
<path d="M144.8 608.7H2038M144.8 746.4H2038" stroke="#000" stroke-opacity="0.135" stroke-width="4" fill="none"/>
<path d="M139.8 539.9v19.4M139.8 815.2v-19.4M155.8 539.9v19.4M155.8 815.2v-19.4M171.8 539.9v19.4M171.8 815.2v-19.4M187.8 539.9v19.4M187.8 815.2v-19.4M203.8 539.9v19.4M203.8 815.2v-19.4M219.8 539.9v19.4M219.8 815.2v-19.4M235.8 539.9v19.4M235.8 815.2v-19.4M251.8 539.9v19.4M251.8 815.2v-19.4M267.8 539.9v19.4M267.8 815.2v-19.4M283.8 539.9v19.4M283.8 815.2v-19.4M299.8 539.9v19.4M299.8 815.2v-19.4M315.8 539.9v19.4M315.8 815.2v-19.4M331.8 539.9v19.4M331.8 815.2v-19.4M347.8 539.9v19.4M347.8 815.2v-19.4M363.7 539.9v19.4M363.7 815.2v-19.4M379.7 539.9v19.4M379.7 815.2v-19.4M395.7 539.9v19.4M395.7 815.2v-19.4M411.7 539.9v19.4M411.7 815.2v-19.4M427.7 539.9v19.4M427.7 815.2v-19.4M443.7 539.9v19.4M443.7 815.2v-19.4M459.7 539.9v19.4M459.7 815.2v-19.4M475.7 539.9v19.4M475.7 815.2v-19.4M491.7 539.9v19.4M491.7 815.2v-19.4M507.7 539.9v19.4M507.7 815.2v-19.4M523.7 539.9v19.4M523.7 815.2v-19.4M539.7 539.9v19.4M539.7 815.2v-19.4M555.7 539.9v19.4M555.7 815.2v-19.4M571.7 539.9v19.4M571.7 815.2v-19.4M587.6 539.9v19.4M587.6 815.2v-19.4M603.6 539.9v19.4M603.6 815.2v-19.4M619.6 539.9v19.4M619.6 815.2v-19.4M635.6 539.9v19.4M635.6 815.2v-19.4M651.6 539.9v19.4M651.6 815.2v-19.4M667.6 539.9v19.4M667.6 815.2v-19.4M683.6 539.9v19.4M683.6 815.2v-19.4M699.6 539.9v19.4M699.6 815.2v-19.4M715.6 539.9v19.4M715.6 815.2v-19.4M731.6 539.9v19.4M731.6 815.2v-19.4M747.6 539.9v19.4M747.6 815.2v-19.4M763.6 539.9v19.4M763.6 815.2v-19.4M779.6 539.9v19.4M779.6 815.2v-19.4M795.6 539.9v19.4M795.6 815.2v-19.4M811.5 539.9v19.4M811.5 815.2v-19.4M827.5 539.9v19.4M827.5 815.2v-19.4M843.5 539.9v19.4M843.5 815.2v-19.4M859.5 539.9v19.4M859.5 815.2v-19.4M875.5 539.9v19.4M875.5 815.2v-19.4M891.5 539.9v19.4M891.5 815.2v-19.4M907.5 539.9v19.4M907.5 815.2v-19.4M923.5 539.9v19.4M923.5 815.2v-19.4M939.5 539.9v19.4M939.5 815.2v-19.4M955.5 539.9v19.4M955.5 815.2v-19.4M971.5 539.9v19.4M971.5 815.2v-19.4M987.5 539.9v19.4M987.5 815.2v-19.4M1003.5 539.9v19.4M1003.5 815.2v-19.4M1019.5 539.9v19.4M1019.5 815.2v-19.4M1035.5 539.9v19.4M1035.5 815.2v-19.4M1051.4 539.9v19.4M1051.4 815.2v-19.4M1067.4 539.9v19.4M1067.4 815.2v-19.4M1083.4 539.9v19.4M1083.4 815.2v-19.4M1099.4 539.9v19.4M1099.4 815.2v-19.4M1115.4 539.9v19.4M1115.4 815.2v-19.4M1131.4 539.9v19.4M1131.4 815.2v-19.4M1147.4 539.9v19.4M1147.4 815.2v-19.4M1163.4 539.9v19.4M1163.4 815.2v-19.4M1179.4 539.9v19.4M1179.4 815.2v-19.4M1195.4 539.9v19.4M1195.4 815.2v-19.4M1211.4 539.9v19.4M1211.4 815.2v-19.4M1227.4 539.9v19.4M1227.4 815.2v-19.4M1243.4 539.9v19.4M1243.4 815.2v-19.4M1259.4 539.9v19.4M1259.4 815.2v-19.4M1275.3 539.9v19.4M1275.3 815.2v-19.4M1291.3 539.9v19.4M1291.3 815.2v-19.4M1307.3 539.9v19.4M1307.3 815.2v-19.4M1323.3 539.9v19.4M1323.3 815.2v-19.4M1339.3 539.9v19.4M1339.3 815.2v-19.4M1355.3 539.9v19.4M1355.3 815.2v-19.4M1371.3 539.9v19.4M1371.3 815.2v-19.4M1387.3 539.9v19.4M1387.3 815.2v-19.4M1403.3 539.9v19.4M1403.3 815.2v-19.4M1419.3 539.9v19.4M1419.3 815.2v-19.4M1435.3 539.9v19.4M1435.3 815.2v-19.4M1451.3 539.9v19.4M1451.3 815.2v-19.4M1467.3 539.9v19.4M1467.3 815.2v-19.4M1483.3 539.9v19.4M1483.3 815.2v-19.4M1499.2 539.9v19.4M1499.2 815.2v-19.4M1515.2 539.9v19.4M1515.2 815.2v-19.4M1531.2 539.9v19.4M1531.2 815.2v-19.4M1547.2 539.9v19.4M1547.2 815.2v-19.4M1563.2 539.9v19.4M1563.2 815.2v-19.4M1579.2 539.9v19.4M1579.2 815.2v-19.4M1595.2 539.9v19.4M1595.2 815.2v-19.4M1611.2 539.9v19.4M1611.2 815.2v-19.4M1627.2 539.9v19.4M1627.2 815.2v-19.4M1643.2 539.9v19.4M1643.2 815.2v-19.4M1659.2 539.9v19.4M1659.2 815.2v-19.4M1675.2 539.9v19.4M1675.2 815.2v-19.4M1691.2 539.9v19.4M1691.2 815.2v-19.4M1707.2 539.9v19.4M1707.2 815.2v-19.4M1723.1 539.9v19.4M1723.1 815.2v-19.4M1739.1 539.9v19.4M1739.1 815.2v-19.4M1755.1 539.9v19.4M1755.1 815.2v-19.4M1771.1 539.9v19.4M1771.1 815.2v-19.4M1787.1 539.9v19.4M1787.1 815.2v-19.4M1803.1 539.9v19.4M1803.1 815.2v-19.4M1819.1 539.9v19.4M1819.1 815.2v-19.4M1835.1 539.9v19.4M1835.1 815.2v-19.4M1851.1 539.9v19.4M1851.1 815.2v-19.4M1867.1 539.9v19.4M1867.1 815.2v-19.4M1883.1 539.9v19.4M1883.1 815.2v-19.4M1899.1 539.9v19.4M1899.1 815.2v-19.4M1915.1 539.9v19.4M1915.1 815.2v-19.4M1931.1 539.9v19.4M1931.1 815.2v-19.4M1947.1 539.9v19.4M1947.1 815.2v-19.4M1963 539.9v19.4M1963 815.2v-19.4M1979 539.9v19.4M1979 815.2v-19.4M1995 539.9v19.4M1995 815.2v-19.4M2011 539.9v19.4M2011 815.2v-19.4M2027 539.9v19.4M2027 815.2v-19.4M2043 539.9v19.4M2043 815.2v-19.4M123.8 608.7h19.5M2059 608.7h-19.5M123.8 677.5h19.5M2059 677.5h-19.5M123.8 746.4h19.5M2059 746.4h-19.5" stroke="#262626" stroke-width="3.9" fill="none"/>
<rect x="123.8" y="539.9" width="1935.2" height="275.3" fill="none" stroke="#262626" stroke-width="4"/>
<polyline points="139.8,694.2 155.8,655.1 171.8,662 187.8,761.5 203.8,615.1 219.8,720.5 235.8,681.5 251.8,637.6 267.8,656.1 283.8,657.1 299.8,735.2 315.8,723.5 331.8,688.3 347.8,674.7 363.7,690.3 379.7,625.9 395.7,744.9 411.7,731.3 427.7,741 443.7,619 459.7,611.2 475.7,652.2 491.7,622.9 507.7,695.2 523.7,663 539.7,722.5 555.7,707.8 571.7,683.4 587.6,643.4 603.6,700 619.6,750.8 635.6,621 651.6,647.3 667.6,687.4 683.6,723.5 699.6,618.1 715.6,589.8 731.6,689.3 747.6,713.7 763.6,649.3 779.6,678.6 795.6,713.7 811.5,683.4 827.5,705.9 843.5,699.1 859.5,730.3 875.5,706.9 891.5,642.9 907.5,614.2 923.5,721.5 939.5,700 955.5,661 971.5,623.9 987.5,644.4 1003.5,645.4 1019.5,630.7 1035.5,644.4 1051.4,683.4 1067.4,634.6 1083.4,617.1 1099.4,622 1115.4,691.3 1131.4,631.7 1147.4,655.1 1163.4,650.3 1179.4,713.7 1195.4,695.2 1211.4,710.8 1227.4,648.3 1243.4,623.9 1259.4,652.2 1275.3,639.5 1291.3,645.4 1307.3,726.4 1323.3,712.7 1339.3,647.3 1355.3,689.3 1371.3,696.1 1387.3,712.7 1403.3,668.8 1419.3,645.4 1435.3,641.5 1451.3,723.5 1467.3,700 1483.3,683.4 1499.2,722.5 1515.2,734.2 1531.2,665.9 1547.2,695.2 1563.2,723.5 1579.2,707.8 1595.2,706.9 1611.2,641.5 1627.2,638.6 1643.2,724.4 1659.2,595.6 1675.2,717.6 1691.2,674.7 1707.2,678.6 1723.1,636.6 1739.1,654.2 1755.1,727.4 1771.1,693.2 1787.1,645.4 1803.1,606.3 1819.1,659 1835.1,689.3 1851.1,670.8 1867.1,663 1883.1,667.8 1899.1,699.1 1915.1,654.2 1931.1,653.2 1947.1,709.8 1963,726.4 1979,639.5 1995,584.9 2011,684.4 2027,695.2 2043,685.4 2059,648.3" fill="none" stroke="#DE7B06" stroke-width="9.0" stroke-linejoin="round"/>
<g fill="none" stroke="#DE7B06" stroke-width="2.4"><circle cx="139.8" cy="694.2" r="6.8"/><circle cx="155.8" cy="655.1" r="6.8"/><circle cx="171.8" cy="662" r="6.8"/><circle cx="187.8" cy="761.5" r="6.8"/><circle cx="203.8" cy="615.1" r="6.8"/><circle cx="219.8" cy="720.5" r="6.8"/><circle cx="235.8" cy="681.5" r="6.8"/><circle cx="251.8" cy="637.6" r="6.8"/><circle cx="267.8" cy="656.1" r="6.8"/><circle cx="283.8" cy="657.1" r="6.8"/><circle cx="299.8" cy="735.2" r="6.8"/><circle cx="315.8" cy="723.5" r="6.8"/><circle cx="331.8" cy="688.3" r="6.8"/><circle cx="347.8" cy="674.7" r="6.8"/><circle cx="363.7" cy="690.3" r="6.8"/><circle cx="379.7" cy="625.9" r="6.8"/><circle cx="395.7" cy="744.9" r="6.8"/><circle cx="411.7" cy="731.3" r="6.8"/><circle cx="427.7" cy="741" r="6.8"/><circle cx="443.7" cy="619" r="6.8"/><circle cx="459.7" cy="611.2" r="6.8"/><circle cx="475.7" cy="652.2" r="6.8"/><circle cx="491.7" cy="622.9" r="6.8"/><circle cx="507.7" cy="695.2" r="6.8"/><circle cx="523.7" cy="663" r="6.8"/><circle cx="539.7" cy="722.5" r="6.8"/><circle cx="555.7" cy="707.8" r="6.8"/><circle cx="571.7" cy="683.4" r="6.8"/><circle cx="587.6" cy="643.4" r="6.8"/><circle cx="603.6" cy="700" r="6.8"/><circle cx="619.6" cy="750.8" r="6.8"/><circle cx="635.6" cy="621" r="6.8"/><circle cx="651.6" cy="647.3" r="6.8"/><circle cx="667.6" cy="687.4" r="6.8"/><circle cx="683.6" cy="723.5" r="6.8"/><circle cx="699.6" cy="618.1" r="6.8"/><circle cx="715.6" cy="589.8" r="6.8"/><circle cx="731.6" cy="689.3" r="6.8"/><circle cx="747.6" cy="713.7" r="6.8"/><circle cx="763.6" cy="649.3" r="6.8"/><circle cx="779.6" cy="678.6" r="6.8"/><circle cx="795.6" cy="713.7" r="6.8"/><circle cx="811.5" cy="683.4" r="6.8"/><circle cx="827.5" cy="705.9" r="6.8"/><circle cx="843.5" cy="699.1" r="6.8"/><circle cx="859.5" cy="730.3" r="6.8"/><circle cx="875.5" cy="706.9" r="6.8"/><circle cx="891.5" cy="642.9" r="6.8"/><circle cx="907.5" cy="614.2" r="6.8"/><circle cx="923.5" cy="721.5" r="6.8"/><circle cx="939.5" cy="700" r="6.8"/><circle cx="955.5" cy="661" r="6.8"/><circle cx="971.5" cy="623.9" r="6.8"/><circle cx="987.5" cy="644.4" r="6.8"/><circle cx="1003.5" cy="645.4" r="6.8"/><circle cx="1019.5" cy="630.7" r="6.8"/><circle cx="1035.5" cy="644.4" r="6.8"/><circle cx="1051.4" cy="683.4" r="6.8"/><circle cx="1067.4" cy="634.6" r="6.8"/><circle cx="1083.4" cy="617.1" r="6.8"/><circle cx="1099.4" cy="622" r="6.8"/><circle cx="1115.4" cy="691.3" r="6.8"/><circle cx="1131.4" cy="631.7" r="6.8"/><circle cx="1147.4" cy="655.1" r="6.8"/><circle cx="1163.4" cy="650.3" r="6.8"/><circle cx="1179.4" cy="713.7" r="6.8"/><circle cx="1195.4" cy="695.2" r="6.8"/><circle cx="1211.4" cy="710.8" r="6.8"/><circle cx="1227.4" cy="648.3" r="6.8"/><circle cx="1243.4" cy="623.9" r="6.8"/><circle cx="1259.4" cy="652.2" r="6.8"/><circle cx="1275.3" cy="639.5" r="6.8"/><circle cx="1291.3" cy="645.4" r="6.8"/><circle cx="1307.3" cy="726.4" r="6.8"/><circle cx="1323.3" cy="712.7" r="6.8"/><circle cx="1339.3" cy="647.3" r="6.8"/><circle cx="1355.3" cy="689.3" r="6.8"/><circle cx="1371.3" cy="696.1" r="6.8"/><circle cx="1387.3" cy="712.7" r="6.8"/><circle cx="1403.3" cy="668.8" r="6.8"/><circle cx="1419.3" cy="645.4" r="6.8"/><circle cx="1435.3" cy="641.5" r="6.8"/><circle cx="1451.3" cy="723.5" r="6.8"/><circle cx="1467.3" cy="700" r="6.8"/><circle cx="1483.3" cy="683.4" r="6.8"/><circle cx="1499.2" cy="722.5" r="6.8"/><circle cx="1515.2" cy="734.2" r="6.8"/><circle cx="1531.2" cy="665.9" r="6.8"/><circle cx="1547.2" cy="695.2" r="6.8"/><circle cx="1563.2" cy="723.5" r="6.8"/><circle cx="1579.2" cy="707.8" r="6.8"/><circle cx="1595.2" cy="706.9" r="6.8"/><circle cx="1611.2" cy="641.5" r="6.8"/><circle cx="1627.2" cy="638.6" r="6.8"/><circle cx="1643.2" cy="724.4" r="6.8"/><circle cx="1659.2" cy="595.6" r="6.8"/><circle cx="1675.2" cy="717.6" r="6.8"/><circle cx="1691.2" cy="674.7" r="6.8"/><circle cx="1707.2" cy="678.6" r="6.8"/><circle cx="1723.1" cy="636.6" r="6.8"/><circle cx="1739.1" cy="654.2" r="6.8"/><circle cx="1755.1" cy="727.4" r="6.8"/><circle cx="1771.1" cy="693.2" r="6.8"/><circle cx="1787.1" cy="645.4" r="6.8"/><circle cx="1803.1" cy="606.3" r="6.8"/><circle cx="1819.1" cy="659" r="6.8"/><circle cx="1835.1" cy="689.3" r="6.8"/><circle cx="1851.1" cy="670.8" r="6.8"/><circle cx="1867.1" cy="663" r="6.8"/><circle cx="1883.1" cy="667.8" r="6.8"/><circle cx="1899.1" cy="699.1" r="6.8"/><circle cx="1915.1" cy="654.2" r="6.8"/><circle cx="1931.1" cy="653.2" r="6.8"/><circle cx="1947.1" cy="709.8" r="6.8"/><circle cx="1963" cy="726.4" r="6.8"/><circle cx="1979" cy="639.5" r="6.8"/><circle cx="1995" cy="584.9" r="6.8"/><circle cx="2011" cy="684.4" r="6.8"/><circle cx="2027" cy="695.2" r="6.8"/><circle cx="2043" cy="685.4" r="6.8"/><circle cx="2059" cy="648.3" r="6.8"/></g>
<polyline points="139.8,677.6 155.8,691.3 171.8,692.2 187.8,684.4 203.8,684.4 219.8,663 235.8,686.4 251.8,663.9 267.8,672.7 283.8,701 299.8,684.4 315.8,679.5 331.8,708.8 347.8,689.3 363.7,690.3 379.7,690.3 395.7,724.4 411.7,689.3 427.7,686.4 443.7,685.4 459.7,687.4 475.7,688.3 491.7,667.8 507.7,654.2 523.7,686.4 539.7,652.2 555.7,682.5 571.7,648.3 587.6,671.7 603.6,665.9 619.6,665.9 635.6,685.4 651.6,686.4 667.6,687.4 683.6,686.4 699.6,682.5 715.6,685.4 731.6,670.8 747.6,675.6 763.6,706.9 779.6,691.3 795.6,686.4 811.5,649.3 827.5,667.8 843.5,658.1 859.5,663.9 875.5,660 891.5,688.8 907.5,677.6 923.5,687.4 939.5,695.2 955.5,712.7 971.5,704.9 987.5,695.2 1003.5,685.4 1019.5,694.2 1035.5,717.6 1051.4,696.1 1067.4,677.6 1083.4,676.6 1099.4,686.4 1115.4,670.8 1131.4,665.9 1147.4,677.6 1163.4,693.2 1179.4,664.9 1195.4,660 1211.4,673.7 1227.4,703 1243.4,687.4 1259.4,668.8 1275.3,662 1291.3,695.2 1307.3,682.5 1323.3,663 1339.3,666.9 1355.3,668.8 1371.3,617.1 1387.3,656.1 1403.3,663 1419.3,661 1435.3,696.1 1451.3,666.9 1467.3,660 1483.3,671.7 1499.2,663 1515.2,665.9 1531.2,654.2 1547.2,654.2 1563.2,666.9 1579.2,666.9 1595.2,665.9 1611.2,684.4 1627.2,675.6 1643.2,662 1659.2,683.4 1675.2,663.9 1691.2,683.4 1707.2,679.5 1723.1,673.7 1739.1,687.4 1755.1,686.4 1771.1,666.9 1787.1,654.2 1803.1,665.9 1819.1,704.9 1835.1,685.4 1851.1,670.8 1867.1,681.5 1883.1,716.6 1899.1,653.2 1915.1,681.5 1931.1,668.8 1947.1,680.5 1963,679.5 1979,692.2 1995,673.7 2011,691.3 2027,686.4 2043,698.1 2059,698.1" fill="none" stroke="#0072BD" stroke-width="9.0" stroke-linejoin="round"/>
<g fill="none" stroke="#0072BD" stroke-width="2.4"><circle cx="139.8" cy="677.6" r="6.8"/><circle cx="155.8" cy="691.3" r="6.8"/><circle cx="171.8" cy="692.2" r="6.8"/><circle cx="187.8" cy="684.4" r="6.8"/><circle cx="203.8" cy="684.4" r="6.8"/><circle cx="219.8" cy="663" r="6.8"/><circle cx="235.8" cy="686.4" r="6.8"/><circle cx="251.8" cy="663.9" r="6.8"/><circle cx="267.8" cy="672.7" r="6.8"/><circle cx="283.8" cy="701" r="6.8"/><circle cx="299.8" cy="684.4" r="6.8"/><circle cx="315.8" cy="679.5" r="6.8"/><circle cx="331.8" cy="708.8" r="6.8"/><circle cx="347.8" cy="689.3" r="6.8"/><circle cx="363.7" cy="690.3" r="6.8"/><circle cx="379.7" cy="690.3" r="6.8"/><circle cx="395.7" cy="724.4" r="6.8"/><circle cx="411.7" cy="689.3" r="6.8"/><circle cx="427.7" cy="686.4" r="6.8"/><circle cx="443.7" cy="685.4" r="6.8"/><circle cx="459.7" cy="687.4" r="6.8"/><circle cx="475.7" cy="688.3" r="6.8"/><circle cx="491.7" cy="667.8" r="6.8"/><circle cx="507.7" cy="654.2" r="6.8"/><circle cx="523.7" cy="686.4" r="6.8"/><circle cx="539.7" cy="652.2" r="6.8"/><circle cx="555.7" cy="682.5" r="6.8"/><circle cx="571.7" cy="648.3" r="6.8"/><circle cx="587.6" cy="671.7" r="6.8"/><circle cx="603.6" cy="665.9" r="6.8"/><circle cx="619.6" cy="665.9" r="6.8"/><circle cx="635.6" cy="685.4" r="6.8"/><circle cx="651.6" cy="686.4" r="6.8"/><circle cx="667.6" cy="687.4" r="6.8"/><circle cx="683.6" cy="686.4" r="6.8"/><circle cx="699.6" cy="682.5" r="6.8"/><circle cx="715.6" cy="685.4" r="6.8"/><circle cx="731.6" cy="670.8" r="6.8"/><circle cx="747.6" cy="675.6" r="6.8"/><circle cx="763.6" cy="706.9" r="6.8"/><circle cx="779.6" cy="691.3" r="6.8"/><circle cx="795.6" cy="686.4" r="6.8"/><circle cx="811.5" cy="649.3" r="6.8"/><circle cx="827.5" cy="667.8" r="6.8"/><circle cx="843.5" cy="658.1" r="6.8"/><circle cx="859.5" cy="663.9" r="6.8"/><circle cx="875.5" cy="660" r="6.8"/><circle cx="891.5" cy="688.8" r="6.8"/><circle cx="907.5" cy="677.6" r="6.8"/><circle cx="923.5" cy="687.4" r="6.8"/><circle cx="939.5" cy="695.2" r="6.8"/><circle cx="955.5" cy="712.7" r="6.8"/><circle cx="971.5" cy="704.9" r="6.8"/><circle cx="987.5" cy="695.2" r="6.8"/><circle cx="1003.5" cy="685.4" r="6.8"/><circle cx="1019.5" cy="694.2" r="6.8"/><circle cx="1035.5" cy="717.6" r="6.8"/><circle cx="1051.4" cy="696.1" r="6.8"/><circle cx="1067.4" cy="677.6" r="6.8"/><circle cx="1083.4" cy="676.6" r="6.8"/><circle cx="1099.4" cy="686.4" r="6.8"/><circle cx="1115.4" cy="670.8" r="6.8"/><circle cx="1131.4" cy="665.9" r="6.8"/><circle cx="1147.4" cy="677.6" r="6.8"/><circle cx="1163.4" cy="693.2" r="6.8"/><circle cx="1179.4" cy="664.9" r="6.8"/><circle cx="1195.4" cy="660" r="6.8"/><circle cx="1211.4" cy="673.7" r="6.8"/><circle cx="1227.4" cy="703" r="6.8"/><circle cx="1243.4" cy="687.4" r="6.8"/><circle cx="1259.4" cy="668.8" r="6.8"/><circle cx="1275.3" cy="662" r="6.8"/><circle cx="1291.3" cy="695.2" r="6.8"/><circle cx="1307.3" cy="682.5" r="6.8"/><circle cx="1323.3" cy="663" r="6.8"/><circle cx="1339.3" cy="666.9" r="6.8"/><circle cx="1355.3" cy="668.8" r="6.8"/><circle cx="1371.3" cy="617.1" r="6.8"/><circle cx="1387.3" cy="656.1" r="6.8"/><circle cx="1403.3" cy="663" r="6.8"/><circle cx="1419.3" cy="661" r="6.8"/><circle cx="1435.3" cy="696.1" r="6.8"/><circle cx="1451.3" cy="666.9" r="6.8"/><circle cx="1467.3" cy="660" r="6.8"/><circle cx="1483.3" cy="671.7" r="6.8"/><circle cx="1499.2" cy="663" r="6.8"/><circle cx="1515.2" cy="665.9" r="6.8"/><circle cx="1531.2" cy="654.2" r="6.8"/><circle cx="1547.2" cy="654.2" r="6.8"/><circle cx="1563.2" cy="666.9" r="6.8"/><circle cx="1579.2" cy="666.9" r="6.8"/><circle cx="1595.2" cy="665.9" r="6.8"/><circle cx="1611.2" cy="684.4" r="6.8"/><circle cx="1627.2" cy="675.6" r="6.8"/><circle cx="1643.2" cy="662" r="6.8"/><circle cx="1659.2" cy="683.4" r="6.8"/><circle cx="1675.2" cy="663.9" r="6.8"/><circle cx="1691.2" cy="683.4" r="6.8"/><circle cx="1707.2" cy="679.5" r="6.8"/><circle cx="1723.1" cy="673.7" r="6.8"/><circle cx="1739.1" cy="687.4" r="6.8"/><circle cx="1755.1" cy="686.4" r="6.8"/><circle cx="1771.1" cy="666.9" r="6.8"/><circle cx="1787.1" cy="654.2" r="6.8"/><circle cx="1803.1" cy="665.9" r="6.8"/><circle cx="1819.1" cy="704.9" r="6.8"/><circle cx="1835.1" cy="685.4" r="6.8"/><circle cx="1851.1" cy="670.8" r="6.8"/><circle cx="1867.1" cy="681.5" r="6.8"/><circle cx="1883.1" cy="716.6" r="6.8"/><circle cx="1899.1" cy="653.2" r="6.8"/><circle cx="1915.1" cy="681.5" r="6.8"/><circle cx="1931.1" cy="668.8" r="6.8"/><circle cx="1947.1" cy="680.5" r="6.8"/><circle cx="1963" cy="679.5" r="6.8"/><circle cx="1979" cy="692.2" r="6.8"/><circle cx="1995" cy="673.7" r="6.8"/><circle cx="2011" cy="691.3" r="6.8"/><circle cx="2027" cy="686.4" r="6.8"/><circle cx="2043" cy="698.1" r="6.8"/><circle cx="2059" cy="698.1" r="6.8"/></g>
<polyline points="139.8,587.8 155.8,644.4 171.8,576.1 187.8,669.8 203.8,633.7 219.8,618.1 235.8,610.2 251.8,634.6 267.8,585.8 283.8,612.2 299.8,611.2 315.8,622 331.8,617.1 347.8,632.7 363.7,604.4 379.7,600.5 395.7,620 411.7,616.1 427.7,612.2 443.7,616.1 459.7,618.1 475.7,627.8 491.7,618.1 507.7,612.2 523.7,577.1 539.7,605.4 555.7,608.3 571.7,609.3 587.6,647.3 603.6,576.1 619.6,635.6 635.6,612.2 651.6,592.7 667.6,586.8 683.6,642.5 699.6,601.5 715.6,666.9 731.6,604.4 747.6,589.8 763.6,619 779.6,574.1 795.6,609.3 811.5,598.5 827.5,599.5 843.5,597.6 859.5,625.9 875.5,581 891.5,647.3 907.5,632.7 923.5,615.1 939.5,567.3 955.5,610.2 971.5,638.6 987.5,616.1 1003.5,618.1 1019.5,594.6 1035.5,633.7 1051.4,581.9 1067.4,617.1 1083.4,635.6 1099.4,630.7 1115.4,561.4 1131.4,604.4 1147.4,640.5 1163.4,619 1179.4,585.8 1195.4,576.1 1211.4,596.6 1227.4,604.4 1243.4,634.6 1259.4,604.4 1275.3,638.6 1291.3,569.3 1307.3,640.5 1323.3,594.6 1339.3,614.2 1355.3,594.6 1371.3,611.2 1387.3,602.4 1403.3,600.5 1419.3,641.5 1435.3,596.6 1451.3,590.7 1467.3,582.9 1483.3,622.9 1499.2,592.7 1515.2,638.6 1531.2,608.3 1547.2,592.7 1563.2,604.4 1579.2,596.6 1595.2,583.9 1611.2,593.7 1627.2,594.6 1643.2,650.3 1659.2,673.7 1675.2,585.8 1691.2,591.7 1707.2,598.5 1723.1,617.1 1739.1,616.1 1755.1,595.6 1771.1,582.9 1787.1,578 1803.1,640.5 1819.1,612.2 1835.1,572.2 1851.1,602.4 1867.1,588.8 1883.1,576.1 1899.1,587.8 1915.1,576.1 1931.1,637.6 1947.1,623.9 1963,584.9 1979,594.6 1995,685.4 2011,577.1 2027,581 2043,612.2 2059,632.7" fill="none" stroke="#FF00FF" stroke-width="9.0" stroke-linejoin="round"/>
<g fill="none" stroke="#FF00FF" stroke-width="2.4"><circle cx="139.8" cy="587.8" r="6.8"/><circle cx="155.8" cy="644.4" r="6.8"/><circle cx="171.8" cy="576.1" r="6.8"/><circle cx="187.8" cy="669.8" r="6.8"/><circle cx="203.8" cy="633.7" r="6.8"/><circle cx="219.8" cy="618.1" r="6.8"/><circle cx="235.8" cy="610.2" r="6.8"/><circle cx="251.8" cy="634.6" r="6.8"/><circle cx="267.8" cy="585.8" r="6.8"/><circle cx="283.8" cy="612.2" r="6.8"/><circle cx="299.8" cy="611.2" r="6.8"/><circle cx="315.8" cy="622" r="6.8"/><circle cx="331.8" cy="617.1" r="6.8"/><circle cx="347.8" cy="632.7" r="6.8"/><circle cx="363.7" cy="604.4" r="6.8"/><circle cx="379.7" cy="600.5" r="6.8"/><circle cx="395.7" cy="620" r="6.8"/><circle cx="411.7" cy="616.1" r="6.8"/><circle cx="427.7" cy="612.2" r="6.8"/><circle cx="443.7" cy="616.1" r="6.8"/><circle cx="459.7" cy="618.1" r="6.8"/><circle cx="475.7" cy="627.8" r="6.8"/><circle cx="491.7" cy="618.1" r="6.8"/><circle cx="507.7" cy="612.2" r="6.8"/><circle cx="523.7" cy="577.1" r="6.8"/><circle cx="539.7" cy="605.4" r="6.8"/><circle cx="555.7" cy="608.3" r="6.8"/><circle cx="571.7" cy="609.3" r="6.8"/><circle cx="587.6" cy="647.3" r="6.8"/><circle cx="603.6" cy="576.1" r="6.8"/><circle cx="619.6" cy="635.6" r="6.8"/><circle cx="635.6" cy="612.2" r="6.8"/><circle cx="651.6" cy="592.7" r="6.8"/><circle cx="667.6" cy="586.8" r="6.8"/><circle cx="683.6" cy="642.5" r="6.8"/><circle cx="699.6" cy="601.5" r="6.8"/><circle cx="715.6" cy="666.9" r="6.8"/><circle cx="731.6" cy="604.4" r="6.8"/><circle cx="747.6" cy="589.8" r="6.8"/><circle cx="763.6" cy="619" r="6.8"/><circle cx="779.6" cy="574.1" r="6.8"/><circle cx="795.6" cy="609.3" r="6.8"/><circle cx="811.5" cy="598.5" r="6.8"/><circle cx="827.5" cy="599.5" r="6.8"/><circle cx="843.5" cy="597.6" r="6.8"/><circle cx="859.5" cy="625.9" r="6.8"/><circle cx="875.5" cy="581" r="6.8"/><circle cx="891.5" cy="647.3" r="6.8"/><circle cx="907.5" cy="632.7" r="6.8"/><circle cx="923.5" cy="615.1" r="6.8"/><circle cx="939.5" cy="567.3" r="6.8"/><circle cx="955.5" cy="610.2" r="6.8"/><circle cx="971.5" cy="638.6" r="6.8"/><circle cx="987.5" cy="616.1" r="6.8"/><circle cx="1003.5" cy="618.1" r="6.8"/><circle cx="1019.5" cy="594.6" r="6.8"/><circle cx="1035.5" cy="633.7" r="6.8"/><circle cx="1051.4" cy="581.9" r="6.8"/><circle cx="1067.4" cy="617.1" r="6.8"/><circle cx="1083.4" cy="635.6" r="6.8"/><circle cx="1099.4" cy="630.7" r="6.8"/><circle cx="1115.4" cy="561.4" r="6.8"/><circle cx="1131.4" cy="604.4" r="6.8"/><circle cx="1147.4" cy="640.5" r="6.8"/><circle cx="1163.4" cy="619" r="6.8"/><circle cx="1179.4" cy="585.8" r="6.8"/><circle cx="1195.4" cy="576.1" r="6.8"/><circle cx="1211.4" cy="596.6" r="6.8"/><circle cx="1227.4" cy="604.4" r="6.8"/><circle cx="1243.4" cy="634.6" r="6.8"/><circle cx="1259.4" cy="604.4" r="6.8"/><circle cx="1275.3" cy="638.6" r="6.8"/><circle cx="1291.3" cy="569.3" r="6.8"/><circle cx="1307.3" cy="640.5" r="6.8"/><circle cx="1323.3" cy="594.6" r="6.8"/><circle cx="1339.3" cy="614.2" r="6.8"/><circle cx="1355.3" cy="594.6" r="6.8"/><circle cx="1371.3" cy="611.2" r="6.8"/><circle cx="1387.3" cy="602.4" r="6.8"/><circle cx="1403.3" cy="600.5" r="6.8"/><circle cx="1419.3" cy="641.5" r="6.8"/><circle cx="1435.3" cy="596.6" r="6.8"/><circle cx="1451.3" cy="590.7" r="6.8"/><circle cx="1467.3" cy="582.9" r="6.8"/><circle cx="1483.3" cy="622.9" r="6.8"/><circle cx="1499.2" cy="592.7" r="6.8"/><circle cx="1515.2" cy="638.6" r="6.8"/><circle cx="1531.2" cy="608.3" r="6.8"/><circle cx="1547.2" cy="592.7" r="6.8"/><circle cx="1563.2" cy="604.4" r="6.8"/><circle cx="1579.2" cy="596.6" r="6.8"/><circle cx="1595.2" cy="583.9" r="6.8"/><circle cx="1611.2" cy="593.7" r="6.8"/><circle cx="1627.2" cy="594.6" r="6.8"/><circle cx="1643.2" cy="650.3" r="6.8"/><circle cx="1659.2" cy="673.7" r="6.8"/><circle cx="1675.2" cy="585.8" r="6.8"/><circle cx="1691.2" cy="591.7" r="6.8"/><circle cx="1707.2" cy="598.5" r="6.8"/><circle cx="1723.1" cy="617.1" r="6.8"/><circle cx="1739.1" cy="616.1" r="6.8"/><circle cx="1755.1" cy="595.6" r="6.8"/><circle cx="1771.1" cy="582.9" r="6.8"/><circle cx="1787.1" cy="578" r="6.8"/><circle cx="1803.1" cy="640.5" r="6.8"/><circle cx="1819.1" cy="612.2" r="6.8"/><circle cx="1835.1" cy="572.2" r="6.8"/><circle cx="1851.1" cy="602.4" r="6.8"/><circle cx="1867.1" cy="588.8" r="6.8"/><circle cx="1883.1" cy="576.1" r="6.8"/><circle cx="1899.1" cy="587.8" r="6.8"/><circle cx="1915.1" cy="576.1" r="6.8"/><circle cx="1931.1" cy="637.6" r="6.8"/><circle cx="1947.1" cy="623.9" r="6.8"/><circle cx="1963" cy="584.9" r="6.8"/><circle cx="1979" cy="594.6" r="6.8"/><circle cx="1995" cy="685.4" r="6.8"/><circle cx="2011" cy="577.1" r="6.8"/><circle cx="2027" cy="581" r="6.8"/><circle cx="2043" cy="612.2" r="6.8"/><circle cx="2059" cy="632.7" r="6.8"/></g>
<path d="M139.8 677.5H2059" stroke="#FF0000" stroke-width="9" fill="none"/>
<text x="1091.5" y="530.1" text-anchor="middle" class="ttl">Normalized: vorticity, divergence, Okubo-Weiss, CGG, 1993 to 2022</text>
<text x="1090.8" y="944.9" text-anchor="middle" class="xl">time</text>
<text transform="translate(121 547.9) rotate(-45)" text-anchor="end" class="tk">1</text>
<text transform="translate(121 616.7) rotate(-45)" text-anchor="end" class="tk">0.5</text>
<text transform="translate(121 685.5) rotate(-45)" text-anchor="end" class="tk">0</text>
<text transform="translate(121 754.4) rotate(-45)" text-anchor="end" class="tk">-0.5</text>
<text transform="translate(121 823.2) rotate(-45)" text-anchor="end" class="tk">-1</text>
<text transform="translate(160.4 846) rotate(-45)" text-anchor="end" class="tk">1993</text>
<text transform="translate(224.4 846) rotate(-45)" text-anchor="end" class="tk">1994</text>
<text transform="translate(288.4 846) rotate(-45)" text-anchor="end" class="tk">1995</text>
<text transform="translate(352.4 846) rotate(-45)" text-anchor="end" class="tk">1996</text>
<text transform="translate(416.3 846) rotate(-45)" text-anchor="end" class="tk">1997</text>
<text transform="translate(480.3 846) rotate(-45)" text-anchor="end" class="tk">1998</text>
<text transform="translate(544.3 846) rotate(-45)" text-anchor="end" class="tk">1999</text>
<text transform="translate(608.2 846) rotate(-45)" text-anchor="end" class="tk">2000</text>
<text transform="translate(672.2 846) rotate(-45)" text-anchor="end" class="tk">2001</text>
<text transform="translate(736.2 846) rotate(-45)" text-anchor="end" class="tk">2002</text>
<text transform="translate(800.2 846) rotate(-45)" text-anchor="end" class="tk">2003</text>
<text transform="translate(864.1 846) rotate(-45)" text-anchor="end" class="tk">2004</text>
<text transform="translate(928.1 846) rotate(-45)" text-anchor="end" class="tk">2005</text>
<text transform="translate(992.1 846) rotate(-45)" text-anchor="end" class="tk">2006</text>
<text transform="translate(1056.1 846) rotate(-45)" text-anchor="end" class="tk">2007</text>
<text transform="translate(1120 846) rotate(-45)" text-anchor="end" class="tk">2008</text>
<text transform="translate(1184 846) rotate(-45)" text-anchor="end" class="tk">2009</text>
<text transform="translate(1248 846) rotate(-45)" text-anchor="end" class="tk">2010</text>
<text transform="translate(1311.9 846) rotate(-45)" text-anchor="end" class="tk">2011</text>
<text transform="translate(1375.9 846) rotate(-45)" text-anchor="end" class="tk">2012</text>
<text transform="translate(1439.9 846) rotate(-45)" text-anchor="end" class="tk">2013</text>
<text transform="translate(1503.9 846) rotate(-45)" text-anchor="end" class="tk">2014</text>
<text transform="translate(1567.8 846) rotate(-45)" text-anchor="end" class="tk">2015</text>
<text transform="translate(1631.8 846) rotate(-45)" text-anchor="end" class="tk">2016</text>
<text transform="translate(1695.8 846) rotate(-45)" text-anchor="end" class="tk">2017</text>
<text transform="translate(1759.7 846) rotate(-45)" text-anchor="end" class="tk">2018</text>
<text transform="translate(1823.7 846) rotate(-45)" text-anchor="end" class="tk">2019</text>
<text transform="translate(1887.7 846) rotate(-45)" text-anchor="end" class="tk">2020</text>
<text transform="translate(1951.7 846) rotate(-45)" text-anchor="end" class="tk">2021</text>
<text transform="translate(2015.6 846) rotate(-45)" text-anchor="end" class="tk">2022</text>
<g transform="translate(24.5 752.2) rotate(-90)" class="yl"><text transform="translate(-3.7 1.5) scale(0.82 1)" class="gr">ζ</text><text x="14.55" y="0">*,</text><text transform="translate(43.5 1.2) scale(0.82 1)" class="gr">δ</text><text x="62.65" y="0">*, Q*</text></g>
</g>
<g>
<path d="M139.8 1027.8V1262.4M155.8 1027.8V1262.4M171.8 1027.8V1262.4M187.8 1027.8V1262.4M203.8 1027.8V1262.4M219.8 1027.8V1262.4M235.8 1027.8V1262.4M251.8 1027.8V1262.4M267.8 1027.8V1262.4M283.8 1027.8V1262.4M299.8 1027.8V1262.4M315.8 1027.8V1262.4M331.8 1027.8V1262.4M347.8 1027.8V1262.4M363.7 1027.8V1262.4M379.7 1027.8V1262.4M395.7 1027.8V1262.4M411.7 1027.8V1262.4M427.7 1027.8V1262.4M443.7 1027.8V1262.4M459.7 1027.8V1262.4M475.7 1027.8V1262.4M491.7 1027.8V1262.4M507.7 1027.8V1262.4M523.7 1027.8V1262.4M539.7 1027.8V1262.4M555.7 1027.8V1262.4M571.7 1027.8V1262.4M587.6 1027.8V1262.4M603.6 1027.8V1262.4M619.6 1027.8V1262.4M635.6 1027.8V1262.4M651.6 1027.8V1262.4M667.6 1027.8V1262.4M683.6 1027.8V1262.4M699.6 1027.8V1262.4M715.6 1027.8V1262.4M731.6 1027.8V1262.4M747.6 1027.8V1262.4M763.6 1027.8V1262.4M779.6 1027.8V1262.4M795.6 1027.8V1262.4M811.5 1027.8V1262.4M827.5 1027.8V1262.4M843.5 1027.8V1262.4M859.5 1027.8V1262.4M875.5 1027.8V1262.4M891.5 1027.8V1262.4M907.5 1027.8V1262.4M923.5 1027.8V1262.4M939.5 1027.8V1262.4M955.5 1027.8V1262.4M971.5 1027.8V1262.4M987.5 1027.8V1262.4M1003.5 1027.8V1262.4M1019.5 1027.8V1262.4M1035.5 1027.8V1262.4M1051.4 1027.8V1262.4M1067.4 1027.8V1262.4M1083.4 1027.8V1262.4M1099.4 1027.8V1262.4M1115.4 1027.8V1262.4M1131.4 1027.8V1262.4M1147.4 1027.8V1262.4M1163.4 1027.8V1262.4M1179.4 1027.8V1262.4M1195.4 1027.8V1262.4M1211.4 1027.8V1262.4M1227.4 1027.8V1262.4M1243.4 1027.8V1262.4M1259.4 1027.8V1262.4M1275.3 1027.8V1262.4M1291.3 1027.8V1262.4M1307.3 1027.8V1262.4M1323.3 1027.8V1262.4M1339.3 1027.8V1262.4M1355.3 1027.8V1262.4M1371.3 1027.8V1262.4M1387.3 1027.8V1262.4M1403.3 1027.8V1262.4M1419.3 1027.8V1262.4M1435.3 1027.8V1262.4M1451.3 1027.8V1262.4M1467.3 1027.8V1262.4M1483.3 1027.8V1262.4M1499.2 1027.8V1262.4M1515.2 1027.8V1262.4M1531.2 1027.8V1262.4M1547.2 1027.8V1262.4M1563.2 1027.8V1262.4M1579.2 1027.8V1262.4M1595.2 1027.8V1262.4M1611.2 1027.8V1262.4M1627.2 1027.8V1262.4M1643.2 1027.8V1262.4M1659.2 1027.8V1262.4M1675.2 1027.8V1262.4M1691.2 1027.8V1262.4M1707.2 1027.8V1262.4M1723.1 1027.8V1262.4M1739.1 1027.8V1262.4M1755.1 1027.8V1262.4M1771.1 1027.8V1262.4M1787.1 1027.8V1262.4M1803.1 1027.8V1262.4M1819.1 1027.8V1262.4M1835.1 1027.8V1262.4M1851.1 1027.8V1262.4M1867.1 1027.8V1262.4M1883.1 1027.8V1262.4M1899.1 1027.8V1262.4M1915.1 1027.8V1262.4M1931.1 1027.8V1262.4M1947.1 1027.8V1262.4M1963 1027.8V1262.4M1979 1027.8V1262.4M1995 1027.8V1262.4M2011 1027.8V1262.4M2027 1027.8V1262.4M2043 1027.8V1262.4" stroke="#000" stroke-opacity="0.135" stroke-width="4" fill="none"/>
<path d="M144.8 1076.2H2038M144.8 1214H2038" stroke="#000" stroke-opacity="0.135" stroke-width="4" fill="none"/>
<path d="M139.8 1007.2v19.4M139.8 1282.9v-19.4M155.8 1007.2v19.4M155.8 1282.9v-19.4M171.8 1007.2v19.4M171.8 1282.9v-19.4M187.8 1007.2v19.4M187.8 1282.9v-19.4M203.8 1007.2v19.4M203.8 1282.9v-19.4M219.8 1007.2v19.4M219.8 1282.9v-19.4M235.8 1007.2v19.4M235.8 1282.9v-19.4M251.8 1007.2v19.4M251.8 1282.9v-19.4M267.8 1007.2v19.4M267.8 1282.9v-19.4M283.8 1007.2v19.4M283.8 1282.9v-19.4M299.8 1007.2v19.4M299.8 1282.9v-19.4M315.8 1007.2v19.4M315.8 1282.9v-19.4M331.8 1007.2v19.4M331.8 1282.9v-19.4M347.8 1007.2v19.4M347.8 1282.9v-19.4M363.7 1007.2v19.4M363.7 1282.9v-19.4M379.7 1007.2v19.4M379.7 1282.9v-19.4M395.7 1007.2v19.4M395.7 1282.9v-19.4M411.7 1007.2v19.4M411.7 1282.9v-19.4M427.7 1007.2v19.4M427.7 1282.9v-19.4M443.7 1007.2v19.4M443.7 1282.9v-19.4M459.7 1007.2v19.4M459.7 1282.9v-19.4M475.7 1007.2v19.4M475.7 1282.9v-19.4M491.7 1007.2v19.4M491.7 1282.9v-19.4M507.7 1007.2v19.4M507.7 1282.9v-19.4M523.7 1007.2v19.4M523.7 1282.9v-19.4M539.7 1007.2v19.4M539.7 1282.9v-19.4M555.7 1007.2v19.4M555.7 1282.9v-19.4M571.7 1007.2v19.4M571.7 1282.9v-19.4M587.6 1007.2v19.4M587.6 1282.9v-19.4M603.6 1007.2v19.4M603.6 1282.9v-19.4M619.6 1007.2v19.4M619.6 1282.9v-19.4M635.6 1007.2v19.4M635.6 1282.9v-19.4M651.6 1007.2v19.4M651.6 1282.9v-19.4M667.6 1007.2v19.4M667.6 1282.9v-19.4M683.6 1007.2v19.4M683.6 1282.9v-19.4M699.6 1007.2v19.4M699.6 1282.9v-19.4M715.6 1007.2v19.4M715.6 1282.9v-19.4M731.6 1007.2v19.4M731.6 1282.9v-19.4M747.6 1007.2v19.4M747.6 1282.9v-19.4M763.6 1007.2v19.4M763.6 1282.9v-19.4M779.6 1007.2v19.4M779.6 1282.9v-19.4M795.6 1007.2v19.4M795.6 1282.9v-19.4M811.5 1007.2v19.4M811.5 1282.9v-19.4M827.5 1007.2v19.4M827.5 1282.9v-19.4M843.5 1007.2v19.4M843.5 1282.9v-19.4M859.5 1007.2v19.4M859.5 1282.9v-19.4M875.5 1007.2v19.4M875.5 1282.9v-19.4M891.5 1007.2v19.4M891.5 1282.9v-19.4M907.5 1007.2v19.4M907.5 1282.9v-19.4M923.5 1007.2v19.4M923.5 1282.9v-19.4M939.5 1007.2v19.4M939.5 1282.9v-19.4M955.5 1007.2v19.4M955.5 1282.9v-19.4M971.5 1007.2v19.4M971.5 1282.9v-19.4M987.5 1007.2v19.4M987.5 1282.9v-19.4M1003.5 1007.2v19.4M1003.5 1282.9v-19.4M1019.5 1007.2v19.4M1019.5 1282.9v-19.4M1035.5 1007.2v19.4M1035.5 1282.9v-19.4M1051.4 1007.2v19.4M1051.4 1282.9v-19.4M1067.4 1007.2v19.4M1067.4 1282.9v-19.4M1083.4 1007.2v19.4M1083.4 1282.9v-19.4M1099.4 1007.2v19.4M1099.4 1282.9v-19.4M1115.4 1007.2v19.4M1115.4 1282.9v-19.4M1131.4 1007.2v19.4M1131.4 1282.9v-19.4M1147.4 1007.2v19.4M1147.4 1282.9v-19.4M1163.4 1007.2v19.4M1163.4 1282.9v-19.4M1179.4 1007.2v19.4M1179.4 1282.9v-19.4M1195.4 1007.2v19.4M1195.4 1282.9v-19.4M1211.4 1007.2v19.4M1211.4 1282.9v-19.4M1227.4 1007.2v19.4M1227.4 1282.9v-19.4M1243.4 1007.2v19.4M1243.4 1282.9v-19.4M1259.4 1007.2v19.4M1259.4 1282.9v-19.4M1275.3 1007.2v19.4M1275.3 1282.9v-19.4M1291.3 1007.2v19.4M1291.3 1282.9v-19.4M1307.3 1007.2v19.4M1307.3 1282.9v-19.4M1323.3 1007.2v19.4M1323.3 1282.9v-19.4M1339.3 1007.2v19.4M1339.3 1282.9v-19.4M1355.3 1007.2v19.4M1355.3 1282.9v-19.4M1371.3 1007.2v19.4M1371.3 1282.9v-19.4M1387.3 1007.2v19.4M1387.3 1282.9v-19.4M1403.3 1007.2v19.4M1403.3 1282.9v-19.4M1419.3 1007.2v19.4M1419.3 1282.9v-19.4M1435.3 1007.2v19.4M1435.3 1282.9v-19.4M1451.3 1007.2v19.4M1451.3 1282.9v-19.4M1467.3 1007.2v19.4M1467.3 1282.9v-19.4M1483.3 1007.2v19.4M1483.3 1282.9v-19.4M1499.2 1007.2v19.4M1499.2 1282.9v-19.4M1515.2 1007.2v19.4M1515.2 1282.9v-19.4M1531.2 1007.2v19.4M1531.2 1282.9v-19.4M1547.2 1007.2v19.4M1547.2 1282.9v-19.4M1563.2 1007.2v19.4M1563.2 1282.9v-19.4M1579.2 1007.2v19.4M1579.2 1282.9v-19.4M1595.2 1007.2v19.4M1595.2 1282.9v-19.4M1611.2 1007.2v19.4M1611.2 1282.9v-19.4M1627.2 1007.2v19.4M1627.2 1282.9v-19.4M1643.2 1007.2v19.4M1643.2 1282.9v-19.4M1659.2 1007.2v19.4M1659.2 1282.9v-19.4M1675.2 1007.2v19.4M1675.2 1282.9v-19.4M1691.2 1007.2v19.4M1691.2 1282.9v-19.4M1707.2 1007.2v19.4M1707.2 1282.9v-19.4M1723.1 1007.2v19.4M1723.1 1282.9v-19.4M1739.1 1007.2v19.4M1739.1 1282.9v-19.4M1755.1 1007.2v19.4M1755.1 1282.9v-19.4M1771.1 1007.2v19.4M1771.1 1282.9v-19.4M1787.1 1007.2v19.4M1787.1 1282.9v-19.4M1803.1 1007.2v19.4M1803.1 1282.9v-19.4M1819.1 1007.2v19.4M1819.1 1282.9v-19.4M1835.1 1007.2v19.4M1835.1 1282.9v-19.4M1851.1 1007.2v19.4M1851.1 1282.9v-19.4M1867.1 1007.2v19.4M1867.1 1282.9v-19.4M1883.1 1007.2v19.4M1883.1 1282.9v-19.4M1899.1 1007.2v19.4M1899.1 1282.9v-19.4M1915.1 1007.2v19.4M1915.1 1282.9v-19.4M1931.1 1007.2v19.4M1931.1 1282.9v-19.4M1947.1 1007.2v19.4M1947.1 1282.9v-19.4M1963 1007.2v19.4M1963 1282.9v-19.4M1979 1007.2v19.4M1979 1282.9v-19.4M1995 1007.2v19.4M1995 1282.9v-19.4M2011 1007.2v19.4M2011 1282.9v-19.4M2027 1007.2v19.4M2027 1282.9v-19.4M2043 1007.2v19.4M2043 1282.9v-19.4M123.8 1076.2h19.5M2059 1076.2h-19.5M123.8 1145.1h19.5M2059 1145.1h-19.5M123.8 1214h19.5M2059 1214h-19.5" stroke="#262626" stroke-width="3.9" fill="none"/>
<rect x="123.8" y="1007.2" width="1935.2" height="275.7" fill="none" stroke="#262626" stroke-width="4"/>
<polyline points="139.8,1163.2 155.8,1155.4 171.8,1155.4 187.8,1140.7 203.8,1186.6 219.8,1167.1 235.8,1167.1 251.8,1159.3 267.8,1176.8 283.8,1157.3 299.8,1172.9 315.8,1178.8 331.8,1173.9 347.8,1141.7 363.7,1155.4 379.7,1159.3 395.7,1154.4 411.7,1136.8 427.7,1147.5 443.7,1163.2 459.7,1199.3 475.7,1185.6 491.7,1181.7 507.7,1166.6 523.7,1163.2 539.7,1161.2 555.7,1162.2 571.7,1139.7 587.6,1170 603.6,1166.1 619.6,1158.3 635.6,1161.2 651.6,1190.5 667.6,1181.7 683.6,1172.9 699.6,1156.3 715.6,1155.4 731.6,1156.3 747.6,1171.9 763.6,1175.8 779.6,1171 795.6,1161.2 811.5,1168 827.5,1161.2 843.5,1163.2 859.5,1141.7 875.5,1161.2 891.5,1140.7 907.5,1167.1 923.5,1131.9 939.5,1158.3 955.5,1144.6 971.5,1171.9 987.5,1156.3 1003.5,1156.3 1019.5,1156.3 1035.5,1161.2 1051.4,1163.2 1067.4,1158.3 1083.4,1152.4 1099.4,1160.2 1115.4,1174.9 1131.4,1144.6 1147.4,1152.4 1163.4,1153.4 1179.4,1161.2 1195.4,1171 1211.4,1173.9 1227.4,1151.4 1243.4,1167.1 1259.4,1153.4 1275.3,1161.2 1291.3,1162.2 1307.3,1158.3 1323.3,1172.9 1339.3,1169 1355.3,1186.6 1371.3,1176.8 1387.3,1161.2 1403.3,1165.1 1419.3,1166.1 1435.3,1161.2 1451.3,1160.2 1467.3,1154.4 1483.3,1169 1499.2,1179.8 1515.2,1172.9 1531.2,1139.7 1547.2,1179.8 1563.2,1176.8 1579.2,1176.8 1595.2,1184.6 1611.2,1171 1627.2,1181.7 1643.2,1173.9 1659.2,1186.6 1675.2,1172.9 1691.2,1180.7 1707.2,1158.3 1723.1,1155.4 1739.1,1165.1 1755.1,1172.9 1771.1,1161.2 1787.1,1161.2 1803.1,1179.8 1819.1,1144.6 1835.1,1173.9 1851.1,1167.1 1867.1,1175.8 1883.1,1171 1899.1,1171 1915.1,1171 1931.1,1171 1947.1,1171 1963,1171 1979,1171 1995,1171 2011,1171 2027,1171 2043,1161.2 2059,1152.4" fill="none" stroke="#DE7B06" stroke-width="9.0" stroke-linejoin="round"/>
<g fill="none" stroke="#DE7B06" stroke-width="2.4"><circle cx="139.8" cy="1163.2" r="6.8"/><circle cx="155.8" cy="1155.4" r="6.8"/><circle cx="171.8" cy="1155.4" r="6.8"/><circle cx="187.8" cy="1140.7" r="6.8"/><circle cx="203.8" cy="1186.6" r="6.8"/><circle cx="219.8" cy="1167.1" r="6.8"/><circle cx="235.8" cy="1167.1" r="6.8"/><circle cx="251.8" cy="1159.3" r="6.8"/><circle cx="267.8" cy="1176.8" r="6.8"/><circle cx="283.8" cy="1157.3" r="6.8"/><circle cx="299.8" cy="1172.9" r="6.8"/><circle cx="315.8" cy="1178.8" r="6.8"/><circle cx="331.8" cy="1173.9" r="6.8"/><circle cx="347.8" cy="1141.7" r="6.8"/><circle cx="363.7" cy="1155.4" r="6.8"/><circle cx="379.7" cy="1159.3" r="6.8"/><circle cx="395.7" cy="1154.4" r="6.8"/><circle cx="411.7" cy="1136.8" r="6.8"/><circle cx="427.7" cy="1147.5" r="6.8"/><circle cx="443.7" cy="1163.2" r="6.8"/><circle cx="459.7" cy="1199.3" r="6.8"/><circle cx="475.7" cy="1185.6" r="6.8"/><circle cx="491.7" cy="1181.7" r="6.8"/><circle cx="507.7" cy="1166.6" r="6.8"/><circle cx="523.7" cy="1163.2" r="6.8"/><circle cx="539.7" cy="1161.2" r="6.8"/><circle cx="555.7" cy="1162.2" r="6.8"/><circle cx="571.7" cy="1139.7" r="6.8"/><circle cx="587.6" cy="1170" r="6.8"/><circle cx="603.6" cy="1166.1" r="6.8"/><circle cx="619.6" cy="1158.3" r="6.8"/><circle cx="635.6" cy="1161.2" r="6.8"/><circle cx="651.6" cy="1190.5" r="6.8"/><circle cx="667.6" cy="1181.7" r="6.8"/><circle cx="683.6" cy="1172.9" r="6.8"/><circle cx="699.6" cy="1156.3" r="6.8"/><circle cx="715.6" cy="1155.4" r="6.8"/><circle cx="731.6" cy="1156.3" r="6.8"/><circle cx="747.6" cy="1171.9" r="6.8"/><circle cx="763.6" cy="1175.8" r="6.8"/><circle cx="779.6" cy="1171" r="6.8"/><circle cx="795.6" cy="1161.2" r="6.8"/><circle cx="811.5" cy="1168" r="6.8"/><circle cx="827.5" cy="1161.2" r="6.8"/><circle cx="843.5" cy="1163.2" r="6.8"/><circle cx="859.5" cy="1141.7" r="6.8"/><circle cx="875.5" cy="1161.2" r="6.8"/><circle cx="891.5" cy="1140.7" r="6.8"/><circle cx="907.5" cy="1167.1" r="6.8"/><circle cx="923.5" cy="1131.9" r="6.8"/><circle cx="939.5" cy="1158.3" r="6.8"/><circle cx="955.5" cy="1144.6" r="6.8"/><circle cx="971.5" cy="1171.9" r="6.8"/><circle cx="987.5" cy="1156.3" r="6.8"/><circle cx="1003.5" cy="1156.3" r="6.8"/><circle cx="1019.5" cy="1156.3" r="6.8"/><circle cx="1035.5" cy="1161.2" r="6.8"/><circle cx="1051.4" cy="1163.2" r="6.8"/><circle cx="1067.4" cy="1158.3" r="6.8"/><circle cx="1083.4" cy="1152.4" r="6.8"/><circle cx="1099.4" cy="1160.2" r="6.8"/><circle cx="1115.4" cy="1174.9" r="6.8"/><circle cx="1131.4" cy="1144.6" r="6.8"/><circle cx="1147.4" cy="1152.4" r="6.8"/><circle cx="1163.4" cy="1153.4" r="6.8"/><circle cx="1179.4" cy="1161.2" r="6.8"/><circle cx="1195.4" cy="1171" r="6.8"/><circle cx="1211.4" cy="1173.9" r="6.8"/><circle cx="1227.4" cy="1151.4" r="6.8"/><circle cx="1243.4" cy="1167.1" r="6.8"/><circle cx="1259.4" cy="1153.4" r="6.8"/><circle cx="1275.3" cy="1161.2" r="6.8"/><circle cx="1291.3" cy="1162.2" r="6.8"/><circle cx="1307.3" cy="1158.3" r="6.8"/><circle cx="1323.3" cy="1172.9" r="6.8"/><circle cx="1339.3" cy="1169" r="6.8"/><circle cx="1355.3" cy="1186.6" r="6.8"/><circle cx="1371.3" cy="1176.8" r="6.8"/><circle cx="1387.3" cy="1161.2" r="6.8"/><circle cx="1403.3" cy="1165.1" r="6.8"/><circle cx="1419.3" cy="1166.1" r="6.8"/><circle cx="1435.3" cy="1161.2" r="6.8"/><circle cx="1451.3" cy="1160.2" r="6.8"/><circle cx="1467.3" cy="1154.4" r="6.8"/><circle cx="1483.3" cy="1169" r="6.8"/><circle cx="1499.2" cy="1179.8" r="6.8"/><circle cx="1515.2" cy="1172.9" r="6.8"/><circle cx="1531.2" cy="1139.7" r="6.8"/><circle cx="1547.2" cy="1179.8" r="6.8"/><circle cx="1563.2" cy="1176.8" r="6.8"/><circle cx="1579.2" cy="1176.8" r="6.8"/><circle cx="1595.2" cy="1184.6" r="6.8"/><circle cx="1611.2" cy="1171" r="6.8"/><circle cx="1627.2" cy="1181.7" r="6.8"/><circle cx="1643.2" cy="1173.9" r="6.8"/><circle cx="1659.2" cy="1186.6" r="6.8"/><circle cx="1675.2" cy="1172.9" r="6.8"/><circle cx="1691.2" cy="1180.7" r="6.8"/><circle cx="1707.2" cy="1158.3" r="6.8"/><circle cx="1723.1" cy="1155.4" r="6.8"/><circle cx="1739.1" cy="1165.1" r="6.8"/><circle cx="1755.1" cy="1172.9" r="6.8"/><circle cx="1771.1" cy="1161.2" r="6.8"/><circle cx="1787.1" cy="1161.2" r="6.8"/><circle cx="1803.1" cy="1179.8" r="6.8"/><circle cx="1819.1" cy="1144.6" r="6.8"/><circle cx="1835.1" cy="1173.9" r="6.8"/><circle cx="1851.1" cy="1167.1" r="6.8"/><circle cx="1867.1" cy="1175.8" r="6.8"/><circle cx="1883.1" cy="1171" r="6.8"/><circle cx="1899.1" cy="1171" r="6.8"/><circle cx="1915.1" cy="1171" r="6.8"/><circle cx="1931.1" cy="1171" r="6.8"/><circle cx="1947.1" cy="1171" r="6.8"/><circle cx="1963" cy="1171" r="6.8"/><circle cx="1979" cy="1171" r="6.8"/><circle cx="1995" cy="1171" r="6.8"/><circle cx="2011" cy="1171" r="6.8"/><circle cx="2027" cy="1171" r="6.8"/><circle cx="2043" cy="1161.2" r="6.8"/><circle cx="2059" cy="1152.4" r="6.8"/></g>
<polyline points="139.8,1171.9 155.8,1169 171.8,1169 187.8,1167.1 203.8,1162.2 219.8,1171.9 235.8,1172.9 251.8,1171 267.8,1168 283.8,1172.9 299.8,1162.2 315.8,1168 331.8,1169 347.8,1177.8 363.7,1169 379.7,1163.2 395.7,1166.1 411.7,1167.1 427.7,1169 443.7,1177.8 459.7,1185.6 475.7,1164.1 491.7,1172.9 507.7,1176.8 523.7,1171 539.7,1175.8 555.7,1170 571.7,1171 587.6,1171.9 603.6,1182.7 619.6,1173.9 635.6,1180.7 651.6,1168 667.6,1163.2 683.6,1167.1 699.6,1176.8 715.6,1177.8 731.6,1169 747.6,1180.7 763.6,1165.1 779.6,1172.9 795.6,1178.8 811.5,1185.6 827.5,1178.8 843.5,1173.9 859.5,1168 875.5,1171.9 891.5,1167.1 907.5,1182.7 923.5,1166.1 939.5,1174.9 955.5,1167.1 971.5,1172.9 987.5,1173.9 1003.5,1171.9 1019.5,1162.2 1035.5,1183.7 1051.4,1166.1 1067.4,1173.9 1083.4,1176.8 1099.4,1166.1 1115.4,1188.5 1131.4,1167.1 1147.4,1165.1 1163.4,1164.1 1179.4,1171.9 1195.4,1181.7 1211.4,1169 1227.4,1167.1 1243.4,1175.8 1259.4,1170 1275.3,1171.9 1291.3,1181.7 1307.3,1172.9 1323.3,1178.8 1339.3,1167.1 1355.3,1212.9 1371.3,1171.9 1387.3,1174.9 1403.3,1165.1 1419.3,1176.8 1435.3,1165.1 1451.3,1166.1 1467.3,1166.1 1483.3,1186.6 1499.2,1169 1515.2,1172.9 1531.2,1188.5 1547.2,1194.4 1563.2,1171 1579.2,1162.2 1595.2,1167.1 1611.2,1162.2 1627.2,1176.8 1643.2,1168 1659.2,1168 1675.2,1172.9 1691.2,1171 1707.2,1179.8 1723.1,1177.8 1739.1,1175.8 1755.1,1161.2 1771.1,1171.9 1787.1,1161.2 1803.1,1200.2 1819.1,1171 1835.1,1166.1 1851.1,1163.2 1867.1,1166.1 1883.1,1169 1899.1,1169 1915.1,1169 1931.1,1169 1947.1,1169 1963,1169 1979,1169 1995,1169 2011,1169 2027,1169 2043,1171 2059,1166.1" fill="none" stroke="#0072BD" stroke-width="9.0" stroke-linejoin="round"/>
<g fill="none" stroke="#0072BD" stroke-width="2.4"><circle cx="139.8" cy="1171.9" r="6.8"/><circle cx="155.8" cy="1169" r="6.8"/><circle cx="171.8" cy="1169" r="6.8"/><circle cx="187.8" cy="1167.1" r="6.8"/><circle cx="203.8" cy="1162.2" r="6.8"/><circle cx="219.8" cy="1171.9" r="6.8"/><circle cx="235.8" cy="1172.9" r="6.8"/><circle cx="251.8" cy="1171" r="6.8"/><circle cx="267.8" cy="1168" r="6.8"/><circle cx="283.8" cy="1172.9" r="6.8"/><circle cx="299.8" cy="1162.2" r="6.8"/><circle cx="315.8" cy="1168" r="6.8"/><circle cx="331.8" cy="1169" r="6.8"/><circle cx="347.8" cy="1177.8" r="6.8"/><circle cx="363.7" cy="1169" r="6.8"/><circle cx="379.7" cy="1163.2" r="6.8"/><circle cx="395.7" cy="1166.1" r="6.8"/><circle cx="411.7" cy="1167.1" r="6.8"/><circle cx="427.7" cy="1169" r="6.8"/><circle cx="443.7" cy="1177.8" r="6.8"/><circle cx="459.7" cy="1185.6" r="6.8"/><circle cx="475.7" cy="1164.1" r="6.8"/><circle cx="491.7" cy="1172.9" r="6.8"/><circle cx="507.7" cy="1176.8" r="6.8"/><circle cx="523.7" cy="1171" r="6.8"/><circle cx="539.7" cy="1175.8" r="6.8"/><circle cx="555.7" cy="1170" r="6.8"/><circle cx="571.7" cy="1171" r="6.8"/><circle cx="587.6" cy="1171.9" r="6.8"/><circle cx="603.6" cy="1182.7" r="6.8"/><circle cx="619.6" cy="1173.9" r="6.8"/><circle cx="635.6" cy="1180.7" r="6.8"/><circle cx="651.6" cy="1168" r="6.8"/><circle cx="667.6" cy="1163.2" r="6.8"/><circle cx="683.6" cy="1167.1" r="6.8"/><circle cx="699.6" cy="1176.8" r="6.8"/><circle cx="715.6" cy="1177.8" r="6.8"/><circle cx="731.6" cy="1169" r="6.8"/><circle cx="747.6" cy="1180.7" r="6.8"/><circle cx="763.6" cy="1165.1" r="6.8"/><circle cx="779.6" cy="1172.9" r="6.8"/><circle cx="795.6" cy="1178.8" r="6.8"/><circle cx="811.5" cy="1185.6" r="6.8"/><circle cx="827.5" cy="1178.8" r="6.8"/><circle cx="843.5" cy="1173.9" r="6.8"/><circle cx="859.5" cy="1168" r="6.8"/><circle cx="875.5" cy="1171.9" r="6.8"/><circle cx="891.5" cy="1167.1" r="6.8"/><circle cx="907.5" cy="1182.7" r="6.8"/><circle cx="923.5" cy="1166.1" r="6.8"/><circle cx="939.5" cy="1174.9" r="6.8"/><circle cx="955.5" cy="1167.1" r="6.8"/><circle cx="971.5" cy="1172.9" r="6.8"/><circle cx="987.5" cy="1173.9" r="6.8"/><circle cx="1003.5" cy="1171.9" r="6.8"/><circle cx="1019.5" cy="1162.2" r="6.8"/><circle cx="1035.5" cy="1183.7" r="6.8"/><circle cx="1051.4" cy="1166.1" r="6.8"/><circle cx="1067.4" cy="1173.9" r="6.8"/><circle cx="1083.4" cy="1176.8" r="6.8"/><circle cx="1099.4" cy="1166.1" r="6.8"/><circle cx="1115.4" cy="1188.5" r="6.8"/><circle cx="1131.4" cy="1167.1" r="6.8"/><circle cx="1147.4" cy="1165.1" r="6.8"/><circle cx="1163.4" cy="1164.1" r="6.8"/><circle cx="1179.4" cy="1171.9" r="6.8"/><circle cx="1195.4" cy="1181.7" r="6.8"/><circle cx="1211.4" cy="1169" r="6.8"/><circle cx="1227.4" cy="1167.1" r="6.8"/><circle cx="1243.4" cy="1175.8" r="6.8"/><circle cx="1259.4" cy="1170" r="6.8"/><circle cx="1275.3" cy="1171.9" r="6.8"/><circle cx="1291.3" cy="1181.7" r="6.8"/><circle cx="1307.3" cy="1172.9" r="6.8"/><circle cx="1323.3" cy="1178.8" r="6.8"/><circle cx="1339.3" cy="1167.1" r="6.8"/><circle cx="1355.3" cy="1212.9" r="6.8"/><circle cx="1371.3" cy="1171.9" r="6.8"/><circle cx="1387.3" cy="1174.9" r="6.8"/><circle cx="1403.3" cy="1165.1" r="6.8"/><circle cx="1419.3" cy="1176.8" r="6.8"/><circle cx="1435.3" cy="1165.1" r="6.8"/><circle cx="1451.3" cy="1166.1" r="6.8"/><circle cx="1467.3" cy="1166.1" r="6.8"/><circle cx="1483.3" cy="1186.6" r="6.8"/><circle cx="1499.2" cy="1169" r="6.8"/><circle cx="1515.2" cy="1172.9" r="6.8"/><circle cx="1531.2" cy="1188.5" r="6.8"/><circle cx="1547.2" cy="1194.4" r="6.8"/><circle cx="1563.2" cy="1171" r="6.8"/><circle cx="1579.2" cy="1162.2" r="6.8"/><circle cx="1595.2" cy="1167.1" r="6.8"/><circle cx="1611.2" cy="1162.2" r="6.8"/><circle cx="1627.2" cy="1176.8" r="6.8"/><circle cx="1643.2" cy="1168" r="6.8"/><circle cx="1659.2" cy="1168" r="6.8"/><circle cx="1675.2" cy="1172.9" r="6.8"/><circle cx="1691.2" cy="1171" r="6.8"/><circle cx="1707.2" cy="1179.8" r="6.8"/><circle cx="1723.1" cy="1177.8" r="6.8"/><circle cx="1739.1" cy="1175.8" r="6.8"/><circle cx="1755.1" cy="1161.2" r="6.8"/><circle cx="1771.1" cy="1171.9" r="6.8"/><circle cx="1787.1" cy="1161.2" r="6.8"/><circle cx="1803.1" cy="1200.2" r="6.8"/><circle cx="1819.1" cy="1171" r="6.8"/><circle cx="1835.1" cy="1166.1" r="6.8"/><circle cx="1851.1" cy="1163.2" r="6.8"/><circle cx="1867.1" cy="1166.1" r="6.8"/><circle cx="1883.1" cy="1169" r="6.8"/><circle cx="1899.1" cy="1169" r="6.8"/><circle cx="1915.1" cy="1169" r="6.8"/><circle cx="1931.1" cy="1169" r="6.8"/><circle cx="1947.1" cy="1169" r="6.8"/><circle cx="1963" cy="1169" r="6.8"/><circle cx="1979" cy="1169" r="6.8"/><circle cx="1995" cy="1169" r="6.8"/><circle cx="2011" cy="1169" r="6.8"/><circle cx="2027" cy="1169" r="6.8"/><circle cx="2043" cy="1171" r="6.8"/><circle cx="2059" cy="1166.1" r="6.8"/></g>
<polyline points="139.8,1050.9 155.8,1058.7 171.8,1053.8 187.8,1052.9 203.8,1056.8 219.8,1053.8 235.8,1050.9 251.8,1051.9 267.8,1052.9 283.8,1055.8 299.8,1058.7 315.8,1065.6 331.8,1047 347.8,1054.8 363.7,1053.8 379.7,1056.8 395.7,1052.9 411.7,1063.6 427.7,1067.5 443.7,1059.7 459.7,1075.3 475.7,1063.6 491.7,1059.7 507.7,1058.2 523.7,1055.8 539.7,1054.8 555.7,1058.7 571.7,1059.7 587.6,1051.9 603.6,1052.9 619.6,1051.9 635.6,1054.8 651.6,1059.7 667.6,1056.8 683.6,1057.8 699.6,1051.9 715.6,1047 731.6,1049.9 747.6,1040.2 763.6,1049 779.6,1054.8 795.6,1056.8 811.5,1056.8 827.5,1061.7 843.5,1056.8 859.5,1064.6 875.5,1049.9 891.5,1062.6 907.5,1039.2 923.5,1073.4 939.5,1056.8 955.5,1060.7 971.5,1049.9 987.5,1046 1003.5,1044.1 1019.5,1064.6 1035.5,1044.1 1051.4,1049.9 1067.4,1041.2 1083.4,1047 1099.4,1051.9 1115.4,1048 1131.4,1056.8 1147.4,1051.9 1163.4,1052.9 1179.4,1056.8 1195.4,1069.5 1211.4,1045.1 1227.4,1051.9 1243.4,1047 1259.4,1057.8 1275.3,1053.8 1291.3,1042.1 1307.3,1053.8 1323.3,1065.6 1339.3,1054.8 1355.3,1068.5 1371.3,1046 1387.3,1054.8 1403.3,1053.8 1419.3,1050.9 1435.3,1052.9 1451.3,1054.8 1467.3,1049 1483.3,1052.9 1499.2,1052.9 1515.2,1048 1531.2,1053.8 1547.2,1040.2 1563.2,1059.7 1579.2,1056.8 1595.2,1065.6 1611.2,1058.7 1627.2,1060.7 1643.2,1065.6 1659.2,1055.8 1675.2,1058.7 1691.2,1043.1 1707.2,1059.7 1723.1,1068.5 1739.1,1072.4 1755.1,1050.9 1771.1,1060.7 1787.1,1050.9 1803.1,1058.7 1819.1,1072.4 1835.1,1052.9 1851.1,1044.1 1867.1,1054.8 1883.1,1053.8 1899.1,1053.8 1915.1,1053.8 1931.1,1053.8 1947.1,1053.8 1963,1053.8 1979,1053.8 1995,1053.8 2011,1053.8 2027,1053.8 2043,1051.9 2059,1055.8" fill="none" stroke="#FF00FF" stroke-width="9.0" stroke-linejoin="round"/>
<g fill="none" stroke="#FF00FF" stroke-width="2.4"><circle cx="139.8" cy="1050.9" r="6.8"/><circle cx="155.8" cy="1058.7" r="6.8"/><circle cx="171.8" cy="1053.8" r="6.8"/><circle cx="187.8" cy="1052.9" r="6.8"/><circle cx="203.8" cy="1056.8" r="6.8"/><circle cx="219.8" cy="1053.8" r="6.8"/><circle cx="235.8" cy="1050.9" r="6.8"/><circle cx="251.8" cy="1051.9" r="6.8"/><circle cx="267.8" cy="1052.9" r="6.8"/><circle cx="283.8" cy="1055.8" r="6.8"/><circle cx="299.8" cy="1058.7" r="6.8"/><circle cx="315.8" cy="1065.6" r="6.8"/><circle cx="331.8" cy="1047" r="6.8"/><circle cx="347.8" cy="1054.8" r="6.8"/><circle cx="363.7" cy="1053.8" r="6.8"/><circle cx="379.7" cy="1056.8" r="6.8"/><circle cx="395.7" cy="1052.9" r="6.8"/><circle cx="411.7" cy="1063.6" r="6.8"/><circle cx="427.7" cy="1067.5" r="6.8"/><circle cx="443.7" cy="1059.7" r="6.8"/><circle cx="459.7" cy="1075.3" r="6.8"/><circle cx="475.7" cy="1063.6" r="6.8"/><circle cx="491.7" cy="1059.7" r="6.8"/><circle cx="507.7" cy="1058.2" r="6.8"/><circle cx="523.7" cy="1055.8" r="6.8"/><circle cx="539.7" cy="1054.8" r="6.8"/><circle cx="555.7" cy="1058.7" r="6.8"/><circle cx="571.7" cy="1059.7" r="6.8"/><circle cx="587.6" cy="1051.9" r="6.8"/><circle cx="603.6" cy="1052.9" r="6.8"/><circle cx="619.6" cy="1051.9" r="6.8"/><circle cx="635.6" cy="1054.8" r="6.8"/><circle cx="651.6" cy="1059.7" r="6.8"/><circle cx="667.6" cy="1056.8" r="6.8"/><circle cx="683.6" cy="1057.8" r="6.8"/><circle cx="699.6" cy="1051.9" r="6.8"/><circle cx="715.6" cy="1047" r="6.8"/><circle cx="731.6" cy="1049.9" r="6.8"/><circle cx="747.6" cy="1040.2" r="6.8"/><circle cx="763.6" cy="1049" r="6.8"/><circle cx="779.6" cy="1054.8" r="6.8"/><circle cx="795.6" cy="1056.8" r="6.8"/><circle cx="811.5" cy="1056.8" r="6.8"/><circle cx="827.5" cy="1061.7" r="6.8"/><circle cx="843.5" cy="1056.8" r="6.8"/><circle cx="859.5" cy="1064.6" r="6.8"/><circle cx="875.5" cy="1049.9" r="6.8"/><circle cx="891.5" cy="1062.6" r="6.8"/><circle cx="907.5" cy="1039.2" r="6.8"/><circle cx="923.5" cy="1073.4" r="6.8"/><circle cx="939.5" cy="1056.8" r="6.8"/><circle cx="955.5" cy="1060.7" r="6.8"/><circle cx="971.5" cy="1049.9" r="6.8"/><circle cx="987.5" cy="1046" r="6.8"/><circle cx="1003.5" cy="1044.1" r="6.8"/><circle cx="1019.5" cy="1064.6" r="6.8"/><circle cx="1035.5" cy="1044.1" r="6.8"/><circle cx="1051.4" cy="1049.9" r="6.8"/><circle cx="1067.4" cy="1041.2" r="6.8"/><circle cx="1083.4" cy="1047" r="6.8"/><circle cx="1099.4" cy="1051.9" r="6.8"/><circle cx="1115.4" cy="1048" r="6.8"/><circle cx="1131.4" cy="1056.8" r="6.8"/><circle cx="1147.4" cy="1051.9" r="6.8"/><circle cx="1163.4" cy="1052.9" r="6.8"/><circle cx="1179.4" cy="1056.8" r="6.8"/><circle cx="1195.4" cy="1069.5" r="6.8"/><circle cx="1211.4" cy="1045.1" r="6.8"/><circle cx="1227.4" cy="1051.9" r="6.8"/><circle cx="1243.4" cy="1047" r="6.8"/><circle cx="1259.4" cy="1057.8" r="6.8"/><circle cx="1275.3" cy="1053.8" r="6.8"/><circle cx="1291.3" cy="1042.1" r="6.8"/><circle cx="1307.3" cy="1053.8" r="6.8"/><circle cx="1323.3" cy="1065.6" r="6.8"/><circle cx="1339.3" cy="1054.8" r="6.8"/><circle cx="1355.3" cy="1068.5" r="6.8"/><circle cx="1371.3" cy="1046" r="6.8"/><circle cx="1387.3" cy="1054.8" r="6.8"/><circle cx="1403.3" cy="1053.8" r="6.8"/><circle cx="1419.3" cy="1050.9" r="6.8"/><circle cx="1435.3" cy="1052.9" r="6.8"/><circle cx="1451.3" cy="1054.8" r="6.8"/><circle cx="1467.3" cy="1049" r="6.8"/><circle cx="1483.3" cy="1052.9" r="6.8"/><circle cx="1499.2" cy="1052.9" r="6.8"/><circle cx="1515.2" cy="1048" r="6.8"/><circle cx="1531.2" cy="1053.8" r="6.8"/><circle cx="1547.2" cy="1040.2" r="6.8"/><circle cx="1563.2" cy="1059.7" r="6.8"/><circle cx="1579.2" cy="1056.8" r="6.8"/><circle cx="1595.2" cy="1065.6" r="6.8"/><circle cx="1611.2" cy="1058.7" r="6.8"/><circle cx="1627.2" cy="1060.7" r="6.8"/><circle cx="1643.2" cy="1065.6" r="6.8"/><circle cx="1659.2" cy="1055.8" r="6.8"/><circle cx="1675.2" cy="1058.7" r="6.8"/><circle cx="1691.2" cy="1043.1" r="6.8"/><circle cx="1707.2" cy="1059.7" r="6.8"/><circle cx="1723.1" cy="1068.5" r="6.8"/><circle cx="1739.1" cy="1072.4" r="6.8"/><circle cx="1755.1" cy="1050.9" r="6.8"/><circle cx="1771.1" cy="1060.7" r="6.8"/><circle cx="1787.1" cy="1050.9" r="6.8"/><circle cx="1803.1" cy="1058.7" r="6.8"/><circle cx="1819.1" cy="1072.4" r="6.8"/><circle cx="1835.1" cy="1052.9" r="6.8"/><circle cx="1851.1" cy="1044.1" r="6.8"/><circle cx="1867.1" cy="1054.8" r="6.8"/><circle cx="1883.1" cy="1053.8" r="6.8"/><circle cx="1899.1" cy="1053.8" r="6.8"/><circle cx="1915.1" cy="1053.8" r="6.8"/><circle cx="1931.1" cy="1053.8" r="6.8"/><circle cx="1947.1" cy="1053.8" r="6.8"/><circle cx="1963" cy="1053.8" r="6.8"/><circle cx="1979" cy="1053.8" r="6.8"/><circle cx="1995" cy="1053.8" r="6.8"/><circle cx="2011" cy="1053.8" r="6.8"/><circle cx="2027" cy="1053.8" r="6.8"/><circle cx="2043" cy="1051.9" r="6.8"/><circle cx="2059" cy="1055.8" r="6.8"/></g>
<path d="M139.8 1145.1H2059" stroke="#FF0000" stroke-width="9" fill="none"/>
<text x="1091.5" y="997.5" text-anchor="middle" class="ttl">Normalized: vorticity, divergence, Okubo-Weiss, SGG, 1993 to 2022</text>
<text x="1090.8" y="1412.2" text-anchor="middle" class="xl">time</text>
<text transform="translate(121 1015.2) rotate(-45)" text-anchor="end" class="tk">1</text>
<text transform="translate(121 1084.2) rotate(-45)" text-anchor="end" class="tk">0.5</text>
<text transform="translate(121 1153.1) rotate(-45)" text-anchor="end" class="tk">0</text>
<text transform="translate(121 1222) rotate(-45)" text-anchor="end" class="tk">-0.5</text>
<text transform="translate(121 1290.9) rotate(-45)" text-anchor="end" class="tk">-1</text>
<text transform="translate(160.4 1313.7) rotate(-45)" text-anchor="end" class="tk">1993</text>
<text transform="translate(224.4 1313.7) rotate(-45)" text-anchor="end" class="tk">1994</text>
<text transform="translate(288.4 1313.7) rotate(-45)" text-anchor="end" class="tk">1995</text>
<text transform="translate(352.4 1313.7) rotate(-45)" text-anchor="end" class="tk">1996</text>
<text transform="translate(416.3 1313.7) rotate(-45)" text-anchor="end" class="tk">1997</text>
<text transform="translate(480.3 1313.7) rotate(-45)" text-anchor="end" class="tk">1998</text>
<text transform="translate(544.3 1313.7) rotate(-45)" text-anchor="end" class="tk">1999</text>
<text transform="translate(608.2 1313.7) rotate(-45)" text-anchor="end" class="tk">2000</text>
<text transform="translate(672.2 1313.7) rotate(-45)" text-anchor="end" class="tk">2001</text>
<text transform="translate(736.2 1313.7) rotate(-45)" text-anchor="end" class="tk">2002</text>
<text transform="translate(800.2 1313.7) rotate(-45)" text-anchor="end" class="tk">2003</text>
<text transform="translate(864.1 1313.7) rotate(-45)" text-anchor="end" class="tk">2004</text>
<text transform="translate(928.1 1313.7) rotate(-45)" text-anchor="end" class="tk">2005</text>
<text transform="translate(992.1 1313.7) rotate(-45)" text-anchor="end" class="tk">2006</text>
<text transform="translate(1056.1 1313.7) rotate(-45)" text-anchor="end" class="tk">2007</text>
<text transform="translate(1120 1313.7) rotate(-45)" text-anchor="end" class="tk">2008</text>
<text transform="translate(1184 1313.7) rotate(-45)" text-anchor="end" class="tk">2009</text>
<text transform="translate(1248 1313.7) rotate(-45)" text-anchor="end" class="tk">2010</text>
<text transform="translate(1311.9 1313.7) rotate(-45)" text-anchor="end" class="tk">2011</text>
<text transform="translate(1375.9 1313.7) rotate(-45)" text-anchor="end" class="tk">2012</text>
<text transform="translate(1439.9 1313.7) rotate(-45)" text-anchor="end" class="tk">2013</text>
<text transform="translate(1503.9 1313.7) rotate(-45)" text-anchor="end" class="tk">2014</text>
<text transform="translate(1567.8 1313.7) rotate(-45)" text-anchor="end" class="tk">2015</text>
<text transform="translate(1631.8 1313.7) rotate(-45)" text-anchor="end" class="tk">2016</text>
<text transform="translate(1695.8 1313.7) rotate(-45)" text-anchor="end" class="tk">2017</text>
<text transform="translate(1759.7 1313.7) rotate(-45)" text-anchor="end" class="tk">2018</text>
<text transform="translate(1823.7 1313.7) rotate(-45)" text-anchor="end" class="tk">2019</text>
<text transform="translate(1887.7 1313.7) rotate(-45)" text-anchor="end" class="tk">2020</text>
<text transform="translate(1951.7 1313.7) rotate(-45)" text-anchor="end" class="tk">2021</text>
<text transform="translate(2015.6 1313.7) rotate(-45)" text-anchor="end" class="tk">2022</text>
<g transform="translate(24.5 1219.8) rotate(-90)" class="yl"><text transform="translate(-3.7 1.5) scale(0.82 1)" class="gr">ζ</text><text x="14.55" y="0">*,</text><text transform="translate(43.5 1.2) scale(0.82 1)" class="gr">δ</text><text x="62.65" y="0">*, Q*</text></g>
</g>
<text x="129.5" y="48.5" class="pl">a)</text>
<text x="134.8" y="517.6" class="pl">b)</text>
<text x="142.2" y="981" class="pl">c)</text>
<text x="730" y="1121.6" class="an">&gt;0, Cycl, Div, Hyper</text>
<text x="726" y="1262.5" class="an">&lt;0, Anticycl, Conv, Ellip</text>
<rect x="1876" y="1029.7" width="160.2" height="201.3" fill="#fff" stroke="#262626" stroke-width="3.9"/>
<path d="M1882.6 1065.1H1949" stroke="#DE7B06" stroke-width="9"/>
<circle cx="1915.5" cy="1065.1" r="6.8" fill="none" stroke="#DE7B06" stroke-width="2.4"/>
<path d="M1882.6 1130.8H1949" stroke="#0072BD" stroke-width="9"/>
<circle cx="1915.5" cy="1130.8" r="6.8" fill="none" stroke="#0072BD" stroke-width="2.4"/>
<path d="M1882.6 1195.8H1949" stroke="#FF00FF" stroke-width="9"/>
<circle cx="1915.5" cy="1195.8" r="6.8" fill="none" stroke="#FF00FF" stroke-width="2.4"/>
<text transform="translate(1950.7 1084) scale(0.86 1)" class="gr2">ζ</text><text x="1981.3" y="1083.8" class="lg">*</text>
<text transform="translate(1950.3 1149.5) scale(0.86 1)" class="gr2">δ</text><text x="1981.3" y="1149.1" class="lg">*</text>
<text x="1954" y="1213.4" class="lg">Q*</text>
</svg>
</body></html>
